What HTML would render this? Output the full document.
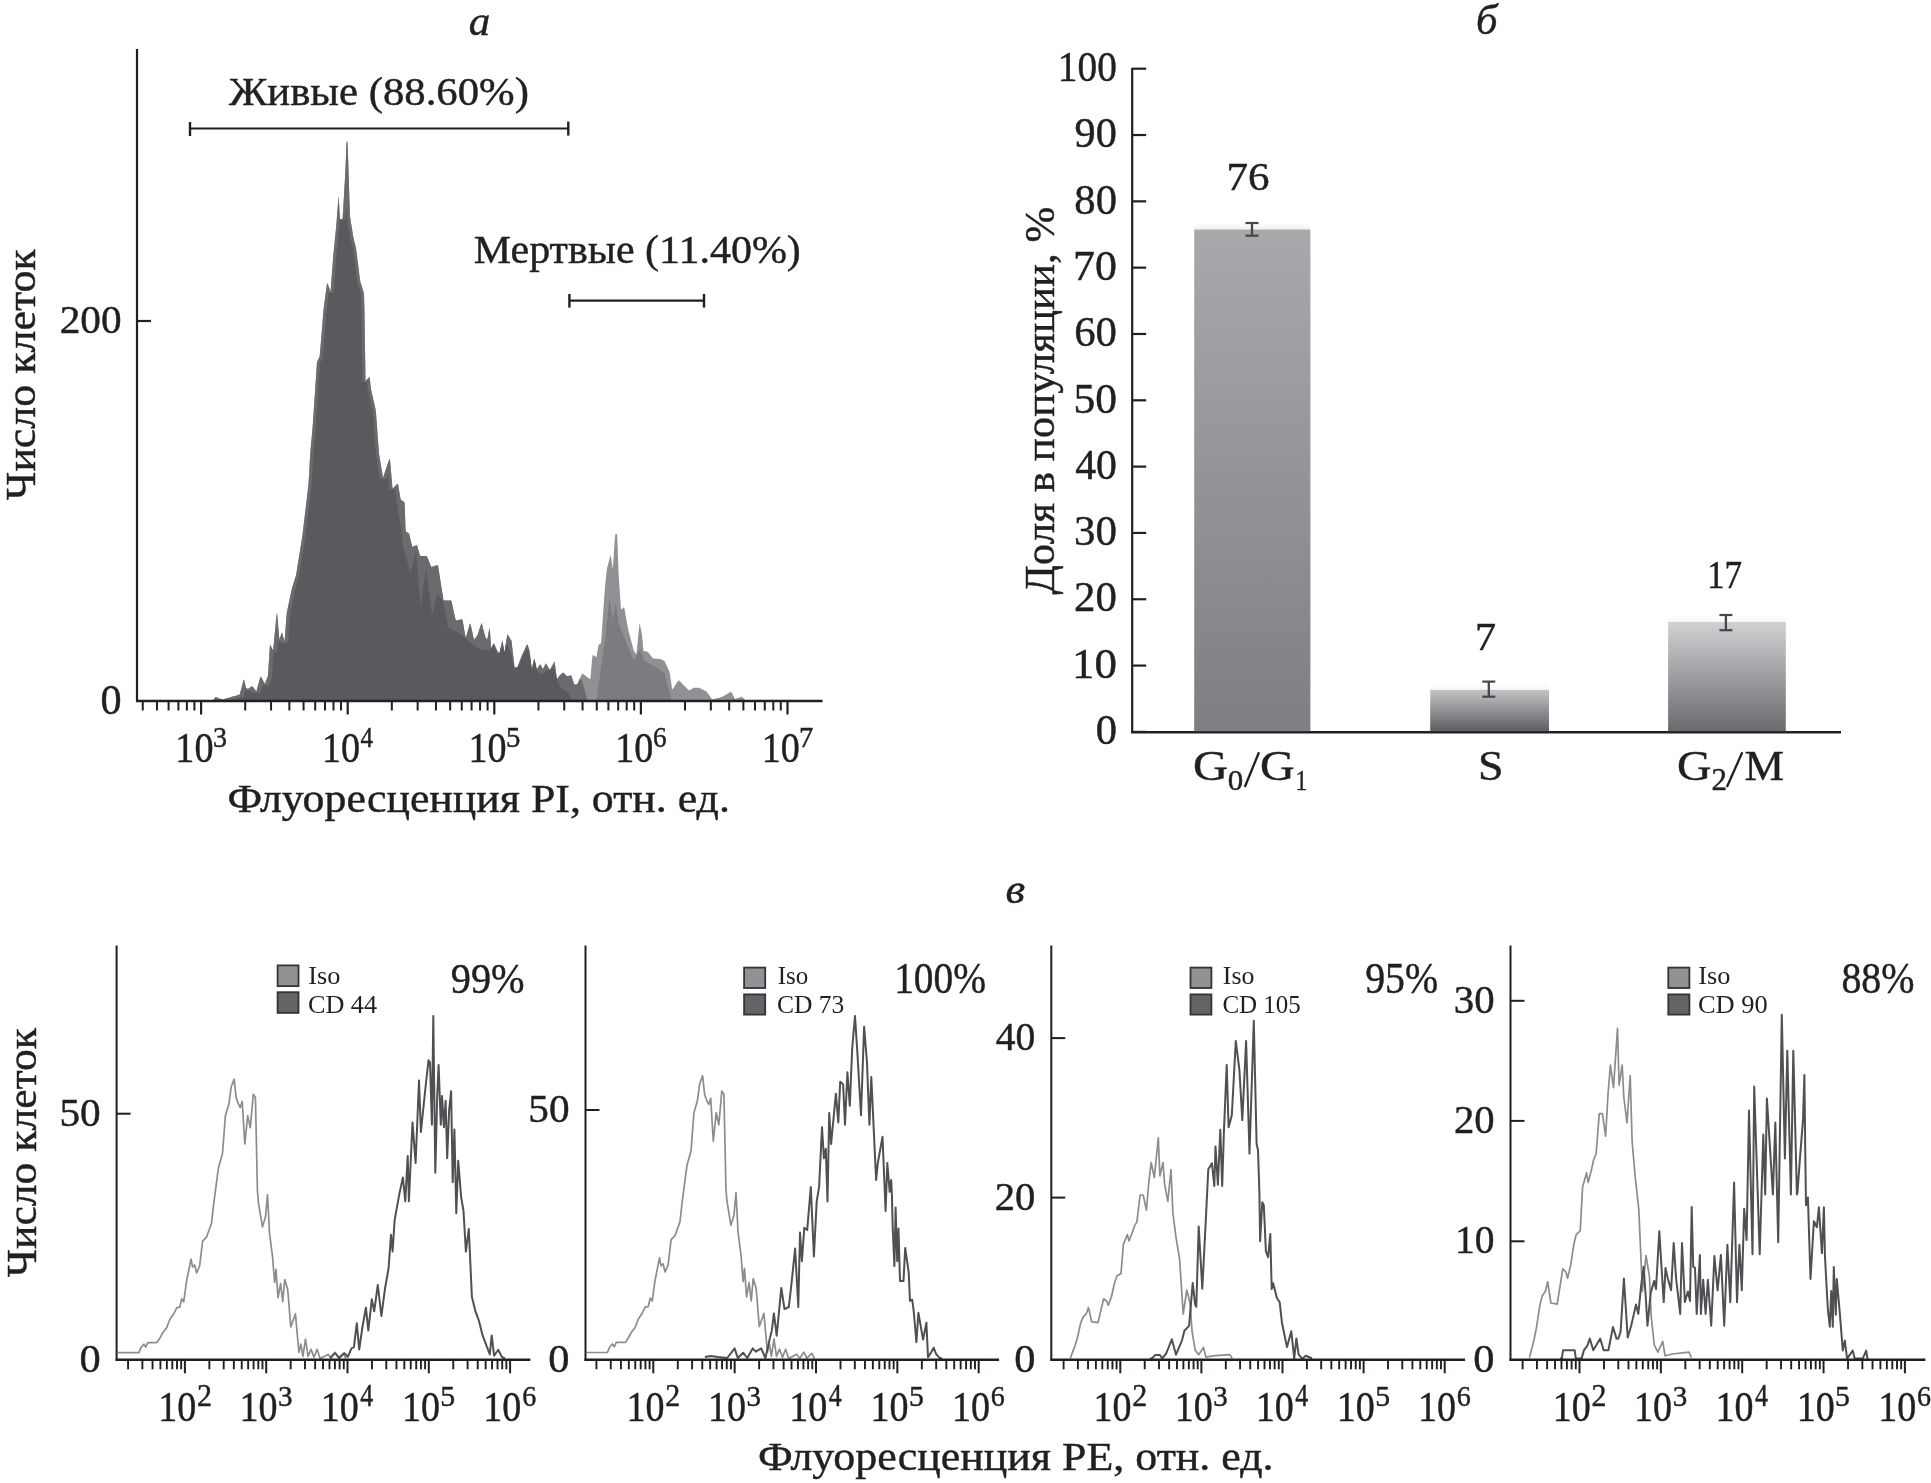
<!DOCTYPE html>
<html><head><meta charset="utf-8"><style>
html,body{margin:0;padding:0;background:#fff;}
svg{display:block;will-change:transform;}
text{font-family:"Liberation Serif", serif;stroke:#231f20;stroke-width:0.45px;} .sm text{stroke-width:0;}
</style></head><body>
<svg width="1931" height="1483" viewBox="0 0 1931 1483">
<defs><linearGradient id="bg0" x1="0" y1="0" x2="0" y2="1"><stop offset="0" stop-color="#a7a9ac"/><stop offset="1" stop-color="#7e7f83"/></linearGradient><linearGradient id="bh0" x1="0" y1="0" x2="0" y2="1"><stop offset="0" stop-color="#ffffff" stop-opacity="0"/><stop offset="1" stop-color="#a7a9ac" stop-opacity="0.18"/></linearGradient><linearGradient id="bg1" x1="0" y1="0" x2="0" y2="1"><stop offset="0" stop-color="#c3c4c6"/><stop offset="1" stop-color="#5d5e62"/></linearGradient><linearGradient id="bh1" x1="0" y1="0" x2="0" y2="1"><stop offset="0" stop-color="#ffffff" stop-opacity="0"/><stop offset="1" stop-color="#c3c4c6" stop-opacity="0.18"/></linearGradient><linearGradient id="bg2" x1="0" y1="0" x2="0" y2="1"><stop offset="0" stop-color="#d0d1d3"/><stop offset="1" stop-color="#6a6b6f"/></linearGradient><linearGradient id="bh2" x1="0" y1="0" x2="0" y2="1"><stop offset="0" stop-color="#ffffff" stop-opacity="0"/><stop offset="1" stop-color="#d0d1d3" stop-opacity="0.18"/></linearGradient></defs>
<rect width="1931" height="1483" fill="#fff"/>
<g id="hist"><polygon points="137,701.0 137.0,701.0 212.5,700.6 213.0,700.5 213.5,699.8 214.0,699.1 214.5,698.4 215.0,697.7 215.5,697.0 216.0,696.9 217.0,697.4 218.0,698.0 219.0,698.5 221.0,699.0 223.0,699.5 224.5,699.0 226.0,698.6 227.5,698.1 229.0,697.7 230.5,697.2 232.0,696.8 234.0,696.3 236.0,695.8 237.5,695.3 239.0,694.8 239.5,694.7 240.0,693.5 240.5,691.6 241.0,689.8 241.5,687.9 242.0,686.1 242.5,684.2 243.0,682.3 243.5,680.5 244.0,679.4 244.5,681.6 245.0,683.7 245.5,685.9 246.0,688.0 247.0,688.5 248.0,689.0 249.0,688.3 250.0,687.6 251.0,686.9 252.0,686.1 252.5,686.4 253.0,687.0 253.5,687.7 254.0,688.4 254.5,689.0 255.0,689.7 255.5,690.3 256.0,691.0 256.5,691.1 257.0,689.3 257.5,687.4 258.0,685.6 258.5,683.8 259.0,681.9 259.5,680.1 260.0,678.2 260.5,676.4 261.0,676.8 261.5,677.7 262.0,678.7 262.5,679.6 263.0,680.6 263.5,681.5 264.0,682.5 264.5,683.4 265.0,683.5 265.5,682.2 266.0,681.0 266.5,679.8 267.0,678.5 267.5,677.2 268.0,676.0 268.5,668.1 269.0,660.2 269.5,652.4 270.0,644.5 270.5,645.5 271.0,646.5 271.5,647.5 272.0,648.5 272.5,649.5 273.0,650.5 273.5,646.6 274.0,641.4 274.5,636.3 275.0,631.1 275.5,625.9 276.0,620.8 276.5,615.6 277.0,612.6 277.5,618.3 278.0,624.0 278.5,629.7 279.0,635.4 279.5,639.7 280.0,638.1 280.5,636.5 281.0,634.9 281.5,633.3 282.0,632.4 282.5,634.2 283.0,636.1 283.5,637.9 284.0,639.8 284.5,641.6 285.0,636.5 285.5,629.6 286.0,622.7 286.5,615.8 287.0,611.6 287.5,609.2 288.0,606.9 288.5,604.5 289.0,602.2 289.5,599.8 290.0,597.4 290.5,595.1 291.0,592.7 291.5,590.4 292.0,588.0 292.5,586.4 293.0,584.9 293.5,583.3 294.0,581.8 294.5,580.2 295.0,578.6 295.5,577.1 296.0,575.5 296.5,572.4 297.0,569.3 297.5,566.2 298.0,563.1 298.5,560.0 299.0,556.9 299.5,553.8 300.0,550.7 300.5,547.6 301.0,544.5 301.5,541.4 302.0,538.3 302.5,535.0 303.0,530.7 303.5,526.5 304.0,522.3 304.5,518.1 305.0,513.9 305.5,509.7 306.0,505.5 306.5,501.3 307.0,497.1 307.5,492.9 308.0,488.7 308.5,484.4 309.0,476.1 309.5,466.8 310.0,457.4 310.5,450.4 311.0,444.9 311.5,439.4 312.0,433.8 312.5,428.3 313.0,422.0 313.5,414.5 314.0,407.0 314.5,399.5 315.0,392.0 315.5,384.5 316.0,377.0 316.5,369.5 317.0,362.0 317.5,361.0 318.0,360.0 318.5,359.0 319.0,358.0 319.5,357.0 320.0,353.0 320.5,346.9 321.0,340.8 321.5,334.7 322.0,328.7 322.5,322.6 323.0,316.5 323.5,310.4 324.0,305.8 324.5,302.1 325.0,298.5 325.5,294.8 326.0,291.2 326.5,287.5 327.0,283.9 327.5,283.3 328.0,284.7 328.5,286.1 329.0,287.6 329.5,289.0 330.0,290.5 330.5,291.9 331.0,285.4 331.5,278.9 332.0,272.4 332.5,265.9 333.0,259.4 333.5,253.8 334.0,248.7 334.5,243.6 335.0,238.6 335.5,233.5 336.0,228.4 336.5,223.0 337.0,216.3 337.5,209.6 338.0,202.8 338.5,196.1 339.0,202.2 339.5,211.5 340.0,219.0 342.5,219.0 343.0,212.2 343.5,203.7 344.0,195.3 344.5,186.8 345.0,178.3 345.5,168.2 346.0,155.8 346.5,143.3 347.0,141.3 347.5,141.9 348.0,154.9 348.5,171.0 349.0,187.0 349.5,203.1 350.0,216.6 350.5,219.8 351.0,222.9 351.5,226.0 352.0,229.1 352.5,232.3 353.0,235.4 353.5,238.3 354.0,240.3 354.5,242.3 355.0,244.3 355.5,246.3 356.0,248.3 356.5,251.9 357.0,256.0 357.5,260.0 358.0,264.0 358.5,268.1 359.0,272.1 359.5,276.2 360.0,280.2 360.5,282.3 361.0,284.0 361.5,285.6 362.0,287.3 362.5,289.0 363.0,290.6 363.5,292.3 364.0,293.9 364.5,314.5 365.0,347.7 365.5,380.9 366.0,380.4 366.5,379.9 367.0,379.4 367.5,378.9 368.0,378.4 368.5,377.9 369.0,377.4 369.5,376.9 370.0,380.6 370.5,385.2 371.0,389.4 371.5,391.6 372.0,393.8 372.5,396.0 373.0,398.2 373.5,400.4 374.0,402.6 374.5,404.8 375.0,407.0 375.5,409.2 376.0,413.2 376.5,419.9 377.0,426.7 377.5,433.4 378.0,440.2 378.5,446.9 379.0,453.7 379.5,456.7 380.0,459.8 380.5,462.8 381.0,465.9 381.5,468.9 382.0,471.9 382.5,475.0 383.0,478.0 383.5,476.5 384.0,475.0 384.5,473.5 385.0,472.1 385.5,470.6 386.0,469.1 386.5,467.6 387.0,466.1 387.5,464.6 388.0,463.1 388.5,461.7 389.0,460.2 389.5,458.7 390.0,460.1 390.5,465.8 391.0,471.6 391.5,477.3 392.0,483.1 392.5,488.8 393.0,488.3 393.5,487.8 394.0,487.3 394.5,486.8 395.0,486.3 395.5,485.8 396.0,485.3 396.5,484.8 397.0,484.3 397.5,483.8 398.0,484.0 398.5,487.0 399.0,490.0 399.5,493.0 400.0,496.0 400.5,499.0 401.0,499.9 402.0,500.5 403.0,501.2 404.0,501.9 404.5,502.2 405.0,513.9 405.5,528.5 406.0,531.7 407.0,532.3 408.0,533.0 409.0,533.6 409.5,535.6 410.0,537.7 410.5,539.7 411.0,541.7 411.5,543.8 412.0,545.8 412.5,546.9 413.5,546.4 414.5,545.9 415.5,545.4 416.5,544.9 417.0,545.4 417.5,547.1 418.0,548.8 418.5,550.5 419.0,552.2 419.5,553.9 420.0,555.6 420.5,555.9 426.5,555.9 427.0,556.4 427.5,557.7 428.0,558.9 428.5,560.2 429.0,561.5 429.5,562.7 430.0,564.0 430.5,565.2 431.0,566.5 431.5,566.9 433.0,566.4 434.5,565.9 436.0,565.4 437.5,564.9 438.0,565.4 438.5,568.6 439.0,571.8 439.5,575.0 440.0,578.2 440.5,581.3 441.0,584.5 441.5,587.7 442.0,590.9 442.5,594.0 443.0,597.2 443.5,600.4 451.0,600.4 451.5,601.3 452.0,603.6 452.5,605.9 453.0,608.1 453.5,610.4 454.0,612.7 454.5,614.9 455.0,617.2 455.5,619.5 456.0,620.4 458.5,619.9 461.0,619.5 462.0,619.4 462.5,619.9 463.0,622.7 463.5,625.6 464.0,628.5 464.5,631.3 465.0,634.2 465.5,637.1 466.0,637.2 466.5,635.4 467.0,633.7 467.5,632.0 468.0,630.3 468.5,628.6 469.0,626.8 469.5,625.1 470.0,623.4 470.5,624.1 471.0,626.3 471.5,628.5 472.0,630.8 472.5,633.1 473.0,635.4 473.5,637.7 474.0,640.0 474.5,639.3 475.0,638.6 475.5,637.9 476.0,637.2 476.5,636.5 477.0,635.8 477.5,635.0 478.0,633.7 478.5,632.2 479.0,630.6 479.5,629.1 480.0,627.6 480.5,626.1 481.0,624.5 481.5,623.0 482.0,624.3 482.5,626.2 483.0,628.2 483.5,630.2 484.0,632.2 484.5,634.1 485.0,636.1 485.5,637.4 486.0,638.1 486.5,638.9 487.0,639.7 487.5,638.4 488.0,635.8 488.5,633.1 489.0,630.5 489.5,627.9 490.0,631.2 490.5,638.6 491.0,646.0 491.5,648.3 492.0,647.2 492.5,646.0 493.0,644.8 493.5,643.7 494.0,643.5 494.5,644.7 495.0,645.9 495.5,647.1 496.0,648.3 496.5,649.3 497.0,650.2 497.5,651.0 498.0,651.8 498.5,652.7 499.0,653.5 499.5,653.1 500.0,650.8 500.5,648.6 501.0,646.3 501.5,644.1 502.0,641.8 502.5,640.7 503.0,643.9 503.5,647.2 504.0,650.4 504.5,652.4 505.0,649.2 505.5,646.0 506.0,642.8 506.5,639.6 507.0,636.4 507.5,634.0 508.0,634.9 508.5,635.7 509.0,636.6 509.5,637.5 510.0,638.4 510.5,639.2 511.0,640.1 511.5,641.0 512.0,645.4 512.5,649.7 513.0,654.1 513.5,658.5 514.0,662.8 514.5,667.2 517.5,667.2 518.0,665.8 518.5,664.5 519.0,663.1 519.5,661.7 520.0,660.4 520.5,659.0 521.0,657.6 521.5,656.3 522.0,655.1 522.5,654.1 523.0,653.0 523.5,651.9 524.0,650.9 524.5,649.8 525.0,648.7 525.5,647.6 526.0,646.6 526.5,645.5 527.0,644.4 527.5,644.8 528.0,646.2 528.5,647.6 529.0,649.0 529.5,650.4 530.0,653.7 530.5,658.3 531.0,662.9 531.5,667.5 532.0,667.9 532.5,665.7 533.0,663.4 533.5,661.2 534.0,658.9 534.5,659.3 535.0,661.5 535.5,663.6 536.0,665.8 536.5,668.0 537.0,669.0 537.5,668.3 538.0,667.6 538.5,666.8 539.0,666.1 539.5,665.4 540.0,664.6 540.5,664.6 541.0,665.6 541.5,666.6 542.0,667.7 542.5,668.7 543.0,668.9 543.5,667.9 544.0,666.9 544.5,666.0 545.0,665.0 545.5,664.0 546.0,663.4 546.5,664.3 547.0,665.2 547.5,666.0 548.0,666.9 548.5,667.8 549.0,668.7 549.5,669.6 550.0,670.1 550.5,669.1 551.0,668.1 551.5,667.1 552.0,666.1 552.5,665.2 553.0,664.2 553.5,663.2 554.0,662.2 554.5,661.2 555.0,664.8 555.5,668.5 556.0,672.1 556.5,675.8 557.0,679.4 557.5,678.6 558.0,677.8 558.5,677.1 559.0,676.3 559.5,675.8 560.0,675.3 560.5,674.8 561.0,674.3 561.5,673.9 562.0,673.4 562.5,672.9 563.0,672.4 564.0,673.2 564.5,673.7 565.0,674.2 565.5,674.7 566.0,675.2 566.5,675.7 567.0,676.2 569.5,675.7 571.0,675.3 571.5,676.2 572.0,677.7 572.5,679.2 573.0,680.8 573.5,682.3 574.0,683.8 574.5,684.4 577.0,684.4 577.5,683.7 578.0,682.7 578.5,681.6 579.0,680.5 579.5,679.4 580.0,678.3 580.5,677.2 581.0,676.1 581.5,675.0 582.0,674.0 582.5,673.5 583.5,674.2 584.5,675.0 585.5,675.7 586.5,676.5 587.5,677.2 588.5,678.0 589.5,678.7 590.0,679.1 590.5,678.2 591.0,672.1 591.5,666.0 592.0,660.0 592.5,655.1 593.5,655.6 594.5,656.1 595.5,656.6 596.5,657.1 597.0,654.1 597.5,651.0 598.0,648.0 598.5,645.0 599.5,644.2 600.5,643.5 601.0,643.1 601.5,637.1 602.0,629.7 602.5,622.3 603.0,614.9 603.5,607.5 604.0,600.4 604.5,593.5 605.0,586.6 605.5,581.9 606.0,577.2 606.5,572.5 607.0,568.3 607.5,566.5 608.0,564.6 608.5,562.8 609.0,560.9 609.5,559.1 610.0,557.2 610.5,555.3 611.0,556.9 611.5,560.8 612.0,564.6 612.5,568.5 613.0,565.7 613.5,558.5 614.0,551.3 614.5,544.1 615.0,536.9 615.5,534.0 617.0,534.0 617.5,543.2 618.0,558.7 618.5,572.5 619.0,579.9 619.5,587.4 620.0,594.8 620.5,602.3 621.0,609.7 621.5,609.3 622.0,608.9 622.5,608.4 623.0,608.0 623.5,607.6 624.0,607.2 624.5,608.7 625.0,611.6 625.5,614.5 626.0,617.4 626.5,620.3 627.0,623.1 627.5,626.0 628.0,628.9 628.5,630.8 629.0,632.7 629.5,634.5 630.0,636.4 630.5,638.3 631.0,640.2 631.5,642.1 632.0,643.9 632.5,645.8 633.0,647.7 633.5,649.6 634.0,651.0 634.5,651.7 635.0,652.5 635.5,653.2 636.0,653.9 636.5,653.5 637.0,648.5 637.5,643.5 638.0,638.5 638.5,633.5 639.0,628.5 639.5,623.5 640.0,624.5 640.5,627.1 641.0,629.7 641.5,632.2 642.0,634.8 642.5,640.0 643.0,646.0 643.5,650.7 645.0,651.2 646.5,651.6 648.0,652.1 648.5,652.8 649.0,653.4 649.5,654.0 650.0,654.6 650.5,655.3 651.0,655.9 651.5,656.5 652.0,657.1 652.5,657.8 653.0,658.4 660.5,659.0 661.5,659.5 662.5,660.0 663.5,660.5 664.5,661.0 665.0,661.9 665.5,663.0 666.0,664.1 666.5,665.2 667.0,666.4 667.5,667.5 668.0,668.6 668.5,669.7 669.0,670.8 669.5,672.0 670.0,674.5 670.5,678.0 671.0,681.6 671.5,685.1 672.0,688.6 672.5,689.5 673.0,688.8 673.5,688.0 674.0,687.2 674.5,686.4 675.0,685.6 675.5,684.8 676.0,684.1 676.5,683.3 677.0,682.5 677.5,681.7 678.0,680.9 678.5,680.2 679.0,680.4 679.5,680.9 680.0,681.4 680.5,681.9 681.0,682.5 681.5,683.0 682.0,683.5 682.5,684.0 683.0,684.5 683.5,685.0 684.0,685.5 684.5,686.0 685.0,686.5 685.5,687.0 686.0,687.4 686.5,687.9 687.0,688.4 687.5,688.9 688.0,689.4 688.5,689.9 689.0,690.4 690.0,689.9 691.0,689.4 692.0,688.8 693.0,688.3 694.0,687.8 699.0,687.8 700.0,688.3 701.0,688.8 702.0,689.3 703.0,689.8 704.0,690.3 705.0,690.8 706.0,691.3 707.0,692.0 707.5,692.7 708.0,693.5 708.5,694.2 709.0,694.9 709.5,695.6 710.0,696.4 710.5,697.1 711.0,697.8 711.5,698.6 712.0,699.3 714.0,698.9 716.0,698.4 718.0,698.0 720.0,697.6 721.5,697.1 722.5,696.5 723.5,696.0 724.5,695.4 725.5,694.9 726.5,694.3 727.5,693.7 728.5,693.2 729.5,692.6 730.5,692.1 731.0,691.8 731.5,692.3 732.0,693.2 732.5,694.2 733.0,695.2 733.5,696.1 734.0,697.1 734.5,698.0 735.0,699.0 736.5,698.5 738.0,698.1 739.5,697.6 741.0,697.1 742.0,696.8 742.5,697.3 743.0,697.8 743.5,698.3 744.0,698.7 744.5,699.2 745.0,699.7 745.5,700.0 747.5,700.5 749.5,700.9 822.5,701.0 822,701.0" fill="#8f9194"/>
<polygon points="137,701.0 137.0,701.0 591.5,700.6 593.0,700.1 594.5,699.7 596.0,699.2 596.5,699.1 597.0,696.8 597.5,693.2 598.0,689.7 598.5,686.1 599.0,682.5 599.5,678.9 600.0,675.3 600.5,671.7 601.0,668.1 601.5,664.5 602.0,660.9 602.5,657.3 603.0,653.7 603.5,650.1 604.0,646.5 604.5,642.9 605.0,639.3 605.5,635.7 606.0,631.1 606.5,626.2 607.0,621.4 607.5,616.5 608.0,611.6 608.5,606.7 609.0,601.9 609.5,597.0 610.0,600.6 610.5,604.2 611.0,607.8 611.5,611.4 612.0,615.0 612.5,618.6 613.0,618.4 613.5,615.8 614.0,613.1 614.5,610.4 615.0,607.8 615.5,605.1 616.0,603.8 616.5,607.7 617.0,611.6 617.5,615.5 618.0,619.4 618.5,622.8 619.0,624.1 619.5,625.4 620.0,626.7 620.5,628.0 621.0,629.3 621.5,630.6 622.0,631.9 622.5,633.2 623.0,634.4 623.5,635.7 624.0,636.9 624.5,638.1 625.0,639.3 625.5,640.6 626.0,641.8 626.5,643.0 627.0,644.3 627.5,645.5 628.0,646.7 628.5,648.0 629.0,649.2 629.5,650.4 630.0,651.6 630.5,652.9 631.0,654.1 631.5,655.3 632.0,656.6 632.5,657.8 633.0,659.0 633.5,660.3 634.0,660.6 634.5,659.6 635.0,658.6 635.5,657.5 636.0,656.5 636.5,655.5 637.0,654.5 637.5,653.5 638.0,652.5 638.5,651.5 639.0,650.4 639.5,649.4 640.0,648.4 640.5,649.0 641.0,650.7 641.5,652.4 642.0,654.2 642.5,655.9 643.0,657.6 643.5,659.3 644.0,661.0 645.0,661.5 646.0,662.0 647.0,662.5 648.0,663.0 649.0,663.4 650.0,663.9 651.0,664.4 652.0,664.9 653.0,665.4 654.0,665.9 655.0,666.4 656.0,666.9 657.0,667.4 657.5,667.8 658.0,668.2 658.5,668.6 659.0,669.0 659.5,669.5 660.0,669.9 660.5,670.3 661.0,670.7 661.5,671.1 662.0,671.5 662.5,672.0 663.0,672.4 663.5,672.8 664.0,673.2 664.5,673.6 665.0,675.3 665.5,677.3 666.0,679.2 666.5,681.2 667.0,683.2 667.5,685.2 668.0,687.1 668.5,689.1 669.0,691.1 669.5,693.1 670.0,695.0 670.5,697.0 671.0,699.0 672.0,699.5 673.0,700.0 674.0,700.5 675.0,701.0 822.5,701.0 822,701.0" fill="#7b7c80"/>
<polygon points="137,701.0 137.0,701.0 212.5,700.6 213.0,700.5 213.5,699.8 214.0,699.1 214.5,698.4 215.0,697.7 215.5,697.0 216.0,696.9 217.0,697.4 218.0,698.0 219.0,698.5 221.0,699.0 223.0,699.5 224.5,699.0 226.0,698.6 227.5,698.1 229.0,697.7 230.5,697.2 232.0,696.8 234.0,696.3 236.0,695.8 237.5,695.3 239.0,694.8 239.5,694.7 240.0,693.5 240.5,691.6 241.0,689.8 241.5,687.9 242.0,686.1 242.5,684.2 243.0,682.3 243.5,680.5 244.0,679.4 244.5,681.6 245.0,683.7 245.5,685.9 246.0,688.0 247.0,688.5 248.0,689.0 249.0,688.3 250.0,687.6 251.0,686.9 252.0,686.1 252.5,686.4 253.0,687.0 253.5,687.7 254.0,688.4 254.5,689.0 255.0,689.7 255.5,690.3 256.0,691.0 256.5,691.1 257.0,689.3 257.5,687.4 258.0,685.6 258.5,683.8 259.0,681.9 259.5,680.1 260.0,678.2 260.5,676.4 261.0,676.8 261.5,677.7 262.0,678.7 262.5,679.6 263.0,680.6 263.5,681.5 264.0,682.5 264.5,683.4 265.0,683.5 265.5,682.2 266.0,681.0 266.5,679.8 267.0,678.5 267.5,677.2 268.0,676.0 268.5,668.1 269.0,660.2 269.5,652.4 270.0,644.5 270.5,645.5 271.0,646.5 271.5,647.5 272.0,648.5 272.5,649.5 273.0,650.5 273.5,646.6 274.0,641.4 274.5,636.3 275.0,631.1 275.5,625.9 276.0,620.8 276.5,615.6 277.0,612.6 277.5,618.3 278.0,624.0 278.5,629.7 279.0,635.4 279.5,639.7 280.0,638.1 280.5,636.5 281.0,634.9 281.5,633.3 282.0,632.4 282.5,634.2 283.0,636.1 283.5,637.9 284.0,639.8 284.5,641.6 285.0,636.5 285.5,629.6 286.0,622.7 286.5,615.8 287.0,611.6 287.5,609.2 288.0,606.9 288.5,604.5 289.0,602.2 289.5,599.8 290.0,597.4 290.5,595.1 291.0,592.7 291.5,590.4 292.0,588.0 292.5,586.4 293.0,584.9 293.5,583.3 294.0,581.8 294.5,580.2 295.0,578.6 295.5,577.1 296.0,575.5 296.5,572.4 297.0,569.3 297.5,566.2 298.0,563.1 298.5,560.0 299.0,556.9 299.5,553.8 300.0,550.7 300.5,547.6 301.0,544.5 301.5,541.4 302.0,538.3 302.5,535.0 303.0,530.7 303.5,526.5 304.0,522.3 304.5,518.1 305.0,513.9 305.5,509.7 306.0,505.5 306.5,501.3 307.0,497.1 307.5,492.9 308.0,488.7 308.5,484.4 309.0,476.1 309.5,466.8 310.0,457.4 310.5,450.4 311.0,444.9 311.5,439.4 312.0,433.8 312.5,428.3 313.0,422.0 313.5,414.5 314.0,407.0 314.5,399.5 315.0,392.0 315.5,384.5 316.0,377.0 316.5,369.5 317.0,362.0 317.5,361.0 318.0,360.0 318.5,359.0 319.0,358.0 319.5,357.0 320.0,353.0 320.5,346.9 321.0,340.8 321.5,334.7 322.0,328.7 322.5,322.6 323.0,316.5 323.5,310.4 324.0,305.8 324.5,302.1 325.0,298.5 325.5,294.8 326.0,291.2 326.5,287.5 327.0,283.9 327.5,283.3 328.0,284.7 328.5,286.1 329.0,287.6 329.5,289.0 330.0,290.5 330.5,291.9 331.0,285.4 331.5,278.9 332.0,272.4 332.5,265.9 333.0,259.4 333.5,253.8 334.0,248.7 334.5,243.6 335.0,238.6 335.5,233.5 336.0,228.4 336.5,223.0 337.0,216.3 337.5,209.6 338.0,202.8 338.5,196.1 339.0,202.2 339.5,211.5 340.0,219.0 342.5,219.0 343.0,212.2 343.5,203.7 344.0,195.3 344.5,186.8 345.0,178.3 345.5,168.2 346.0,155.8 346.5,143.3 347.0,141.3 347.5,141.9 348.0,154.9 348.5,171.0 349.0,187.0 349.5,203.1 350.0,216.6 350.5,219.8 351.0,222.9 351.5,226.0 352.0,229.1 352.5,232.3 353.0,235.4 353.5,238.3 354.0,240.3 354.5,242.3 355.0,244.3 355.5,246.3 356.0,248.3 356.5,251.9 357.0,256.0 357.5,260.0 358.0,264.0 358.5,268.1 359.0,272.1 359.5,276.2 360.0,280.2 360.5,282.3 361.0,284.0 361.5,285.6 362.0,287.3 362.5,289.0 363.0,290.6 363.5,292.3 364.0,293.9 364.5,314.5 365.0,347.7 365.5,380.9 366.0,380.4 366.5,379.9 367.0,379.4 367.5,378.9 368.0,378.4 368.5,377.9 369.0,377.4 369.5,376.9 370.0,380.6 370.5,385.2 371.0,389.4 371.5,391.6 372.0,393.8 372.5,396.0 373.0,398.2 373.5,400.4 374.0,402.6 374.5,404.8 375.0,407.0 375.5,409.2 376.0,413.2 376.5,419.9 377.0,426.7 377.5,433.4 378.0,440.2 378.5,446.9 379.0,453.7 379.5,456.7 380.0,459.8 380.5,462.8 381.0,465.9 381.5,468.9 382.0,471.9 382.5,475.0 383.0,478.0 383.5,476.5 384.0,475.0 384.5,473.5 385.0,472.1 385.5,470.6 386.0,469.1 386.5,467.6 387.0,466.1 387.5,464.6 388.0,463.1 388.5,461.7 389.0,460.2 389.5,458.7 390.0,460.1 390.5,465.8 391.0,471.6 391.5,477.3 392.0,483.1 392.5,488.8 393.0,488.3 393.5,487.8 394.0,487.3 394.5,486.8 395.0,486.3 395.5,485.8 396.0,485.3 396.5,484.8 397.0,484.3 397.5,483.8 398.0,484.0 398.5,487.0 399.0,490.0 399.5,493.0 400.0,496.0 400.5,499.0 401.0,499.9 402.0,500.5 403.0,501.2 404.0,501.9 404.5,502.2 405.0,513.9 405.5,528.5 406.0,531.7 407.0,532.3 408.0,533.0 409.0,533.6 409.5,535.6 410.0,537.7 410.5,539.7 411.0,541.7 411.5,543.8 412.0,545.8 412.5,546.9 413.5,546.4 414.5,545.9 415.5,545.4 416.5,544.9 417.0,545.4 417.5,547.1 418.0,548.8 418.5,550.5 419.0,552.2 419.5,553.9 420.0,555.6 420.5,555.9 426.5,555.9 427.0,556.4 427.5,557.7 428.0,558.9 428.5,560.2 429.0,561.5 429.5,562.7 430.0,564.0 430.5,565.2 431.0,566.5 431.5,566.9 433.0,566.4 434.5,565.9 436.0,565.4 437.5,564.9 438.0,565.4 438.5,568.6 439.0,571.8 439.5,575.0 440.0,578.2 440.5,581.3 441.0,584.5 441.5,587.7 442.0,590.9 442.5,594.0 443.0,597.2 443.5,600.4 451.0,600.4 451.5,601.3 452.0,603.6 452.5,605.9 453.0,608.1 453.5,610.4 454.0,612.7 454.5,614.9 455.0,617.2 455.5,619.5 456.0,620.4 458.5,619.9 461.0,619.5 462.0,619.4 462.5,619.9 463.0,622.7 463.5,625.6 464.0,628.5 464.5,631.3 465.0,634.2 465.5,637.1 466.0,637.2 466.5,635.4 467.0,633.7 467.5,632.0 468.0,630.3 468.5,628.6 469.0,626.8 469.5,625.1 470.0,623.4 470.5,624.1 471.0,626.3 471.5,628.5 472.0,630.8 472.5,633.1 473.0,635.4 473.5,637.7 474.0,640.0 474.5,639.3 475.0,638.6 475.5,637.9 476.0,637.2 476.5,636.5 477.0,635.8 477.5,635.0 478.0,633.7 478.5,632.2 479.0,630.6 479.5,629.1 480.0,627.6 480.5,626.1 481.0,624.5 481.5,623.0 482.0,624.3 482.5,626.2 483.0,628.2 483.5,630.2 484.0,632.2 484.5,634.1 485.0,636.1 485.5,637.4 486.0,638.1 486.5,638.9 487.0,639.7 487.5,638.4 488.0,635.8 488.5,633.1 489.0,630.5 489.5,627.9 490.0,631.2 490.5,638.6 491.0,646.0 491.5,648.3 492.0,647.2 492.5,646.0 493.0,644.8 493.5,643.7 494.0,643.5 494.5,644.7 495.0,645.9 495.5,647.1 496.0,648.3 496.5,649.3 497.0,650.2 497.5,651.0 498.0,651.8 498.5,652.7 499.0,653.5 499.5,653.1 500.0,650.8 500.5,648.6 501.0,646.3 501.5,644.1 502.0,641.8 502.5,640.7 503.0,643.9 503.5,647.2 504.0,650.4 504.5,652.4 505.0,649.2 505.5,646.0 506.0,642.8 506.5,639.6 507.0,636.4 507.5,634.0 508.0,634.9 508.5,635.7 509.0,636.6 509.5,637.5 510.0,638.4 510.5,639.2 511.0,640.1 511.5,641.0 512.0,645.4 512.5,649.7 513.0,654.1 513.5,658.5 514.0,662.8 514.5,667.2 517.5,667.2 518.0,665.8 518.5,664.5 519.0,663.1 519.5,661.7 520.0,660.4 520.5,659.0 521.0,657.6 521.5,656.3 522.0,655.1 522.5,654.1 523.0,653.0 523.5,651.9 524.0,650.9 524.5,649.8 525.0,648.7 525.5,647.6 526.0,646.6 526.5,645.5 527.0,644.4 527.5,644.8 528.0,646.2 528.5,647.6 529.0,649.0 529.5,650.4 530.0,653.7 530.5,658.3 531.0,662.9 531.5,667.5 532.0,667.9 532.5,665.7 533.0,663.4 533.5,661.2 534.0,658.9 534.5,659.3 535.0,661.5 535.5,663.6 536.0,665.8 536.5,668.0 537.0,669.0 537.5,668.3 538.0,667.6 538.5,666.8 539.0,666.1 539.5,665.4 540.0,664.6 540.5,664.6 541.0,665.6 541.5,666.6 542.0,667.7 542.5,668.7 543.0,668.9 543.5,667.9 544.0,666.9 544.5,666.0 545.0,665.0 545.5,664.0 546.0,663.4 546.5,664.3 547.0,665.2 547.5,666.0 548.0,666.9 548.5,667.8 549.0,668.7 549.5,669.6 550.0,670.1 550.5,669.1 551.0,668.1 551.5,667.1 552.0,666.1 552.5,665.2 553.0,664.2 553.5,663.2 554.0,662.2 554.5,661.2 555.0,664.8 555.5,668.5 556.0,672.1 556.5,675.8 557.0,679.4 557.5,678.6 558.0,677.8 558.5,677.1 559.0,676.3 559.5,675.8 560.0,675.3 560.5,674.8 561.0,674.3 561.5,673.9 562.0,673.4 562.5,672.9 563.0,672.4 564.0,673.2 564.5,673.7 565.0,674.2 565.5,674.7 566.0,675.2 566.5,675.7 567.0,676.2 569.5,675.7 571.0,675.3 571.5,676.2 572.0,677.7 572.5,679.2 573.0,680.8 573.5,682.3 574.0,683.8 574.5,684.4 577.0,684.4 577.5,683.7 578.0,682.7 578.5,681.6 579.0,680.5 579.5,679.4 580.0,678.3 581.0,679.2 581.5,679.9 582.0,680.7 582.5,682.1 583.0,684.0 583.5,685.9 584.0,687.8 584.5,689.6 585.0,691.4 585.5,693.1 586.0,694.8 586.5,696.4 587.0,698.0 587.5,699.5 588.0,701.0 822.5,701.0 822,701.0" fill="#6a6b6f"/>
<polygon points="137,701.0 137.0,701.0 230.0,700.6 231.5,700.1 233.0,699.7 234.5,699.2 236.0,698.8 238.0,698.3 240.0,697.8 241.5,697.3 243.0,696.8 243.5,696.7 244.0,695.5 244.5,693.6 245.0,691.8 245.5,691.0 250.5,691.0 251.0,691.7 251.5,692.3 252.0,693.0 260.5,693.1 261.0,691.3 261.5,689.4 262.0,687.6 262.5,685.8 263.0,685.5 269.0,685.5 269.5,684.2 270.0,683.0 270.5,681.8 271.0,680.5 271.5,679.2 272.0,678.0 272.5,670.1 273.0,662.2 273.5,654.4 274.0,652.5 277.0,652.5 277.5,648.6 278.0,643.4 278.5,641.7 280.0,641.8 280.5,643.6 287.5,643.3 288.0,641.2 288.5,638.1 289.0,631.8 289.5,624.5 290.0,618.6 290.5,613.8 291.0,610.4 291.5,607.9 292.0,605.4 292.5,602.9 293.0,600.4 293.5,597.9 294.0,595.4 294.5,592.9 295.0,590.4 295.5,588.5 296.0,586.7 296.5,585.0 297.0,583.4 297.5,581.7 298.0,580.0 298.5,578.4 299.0,576.7 299.5,573.5 300.0,570.3 300.5,567.2 301.0,564.1 301.5,561.0 302.0,557.9 302.5,554.8 303.0,551.7 303.5,548.6 304.0,545.5 304.5,542.4 305.0,539.3 305.5,536.0 306.0,531.7 306.5,527.5 307.0,523.3 307.5,519.1 308.0,514.9 308.5,510.7 309.0,506.5 309.5,502.3 310.0,498.1 310.5,493.9 311.0,489.7 311.5,485.4 312.0,477.1 312.5,467.8 313.0,458.4 313.5,451.4 314.0,445.9 314.5,440.4 315.0,434.8 315.5,429.3 316.0,423.0 316.5,415.5 317.0,408.0 317.5,400.5 318.0,393.0 318.5,385.5 319.0,378.0 319.5,370.5 320.0,363.0 320.5,362.0 321.0,361.0 321.5,360.0 322.0,359.0 322.5,358.0 323.0,354.0 323.5,347.9 324.0,341.8 324.5,335.7 325.0,329.7 325.5,323.6 326.0,317.5 326.5,311.4 327.0,306.8 327.5,303.1 328.0,299.5 328.5,295.8 329.0,292.9 333.5,292.9 334.0,286.4 334.5,279.9 335.0,273.4 335.5,266.9 336.0,260.4 336.5,254.8 337.0,249.7 337.5,244.6 338.0,239.6 338.5,234.5 339.0,229.4 339.5,224.0 340.0,220.0 345.5,220.0 346.0,213.2 346.5,204.7 347.0,217.6 347.5,220.8 348.0,223.9 348.5,227.0 349.0,230.1 349.5,233.3 350.0,236.4 350.5,239.3 351.0,241.3 351.5,243.3 352.0,245.3 352.5,247.3 353.0,249.3 353.5,252.9 354.0,257.0 354.5,261.0 355.0,265.0 355.5,269.1 356.0,273.1 356.5,277.2 357.0,281.2 357.5,283.3 358.0,285.0 358.5,286.6 359.0,288.3 359.5,290.0 360.0,291.6 360.5,293.3 361.0,294.9 361.5,315.5 362.0,348.7 362.5,381.9 367.0,381.9 367.5,386.2 368.0,390.4 368.5,392.6 369.0,394.8 369.5,397.0 370.0,399.2 370.5,401.4 371.0,403.6 371.5,405.8 372.0,408.0 372.5,410.2 373.0,414.2 373.5,420.9 374.0,427.7 374.5,434.4 375.0,441.2 375.5,447.9 376.0,454.7 376.5,457.7 377.0,460.8 377.5,463.8 378.0,466.9 378.5,469.9 379.0,472.9 379.5,476.0 380.0,479.0 386.0,479.0 386.5,477.5 387.0,476.0 387.5,474.5 388.0,473.1 388.5,478.3 389.0,484.1 389.5,489.8 395.0,489.8 395.5,491.8 396.0,494.9 396.5,499.6 397.0,504.0 397.5,508.3 398.0,510.9 398.5,513.4 399.0,515.9 399.5,518.6 400.0,521.4 400.5,524.9 401.0,528.6 401.5,532.6 402.0,538.1 402.5,542.7 403.0,545.7 403.5,547.9 404.0,550.0 404.5,552.2 405.0,554.3 405.5,556.3 406.0,557.8 406.5,559.3 407.0,560.8 407.5,562.3 408.0,563.8 408.5,565.4 409.0,566.9 409.5,568.4 410.0,569.9 410.5,571.4 411.0,570.8 411.5,568.8 412.0,566.8 412.5,564.8 413.0,562.8 413.5,560.7 414.0,558.7 414.5,556.7 415.0,554.7 415.5,552.7 416.0,550.7 416.5,557.1 417.0,563.4 417.5,569.8 418.0,576.1 418.5,582.5 419.0,588.8 419.5,595.2 420.0,601.5 420.5,607.9 421.0,604.3 421.5,600.6 422.0,597.0 422.5,593.3 423.0,589.7 423.5,586.1 424.0,582.4 424.5,578.8 425.0,575.1 425.5,571.5 426.0,569.3 426.5,573.1 427.0,576.8 427.5,580.6 428.0,584.3 428.5,588.1 429.0,591.8 429.5,595.5 430.0,599.3 430.5,603.0 431.0,606.8 431.5,610.5 432.0,614.3 432.5,613.4 433.0,611.4 433.5,609.5 434.0,607.5 434.5,605.5 435.0,603.5 435.5,601.5 436.0,599.5 436.5,597.6 437.0,595.6 437.5,593.6 438.0,594.3 438.5,594.9 439.0,595.6 439.5,596.2 440.0,596.9 440.5,597.5 441.0,598.2 441.5,598.9 442.0,599.5 442.5,600.2 443.0,601.2 443.5,603.7 444.0,606.3 444.5,608.8 445.0,611.3 445.5,613.8 446.0,616.4 446.5,618.9 447.0,621.4 447.5,624.0 448.0,626.5 448.5,627.7 449.5,628.2 450.5,628.7 451.5,629.2 452.5,629.7 453.5,630.2 454.5,630.7 455.5,631.2 456.5,631.7 457.5,632.2 458.5,632.7 459.5,633.4 460.0,633.8 460.5,634.3 461.0,634.7 461.5,635.1 462.0,635.6 462.5,636.0 463.0,636.4 463.5,636.8 464.0,637.3 464.5,637.7 465.0,638.1 465.5,638.5 466.0,639.0 466.5,639.4 467.0,639.8 467.5,640.3 468.0,640.7 468.5,641.1 469.0,641.5 469.5,642.0 470.0,642.4 470.5,642.8 471.0,643.3 471.5,643.7 472.5,644.3 473.5,645.0 474.5,645.7 475.5,646.3 476.5,647.0 477.5,647.6 478.5,648.3 479.5,649.0 480.5,649.6 481.5,650.3 482.0,650.6 485.5,650.2 488.5,649.7 490.0,649.5 490.5,648.7 491.0,647.9 491.5,648.3 492.0,647.2 492.5,646.0 493.0,644.8 493.5,643.9 494.0,645.3 494.5,646.6 495.0,648.0 495.5,649.4 496.0,650.8 496.5,652.1 497.0,653.5 497.5,653.2 498.0,652.4 498.5,652.7 499.0,653.5 499.5,653.1 500.0,650.8 500.5,648.6 501.0,647.9 501.5,647.1 502.0,646.4 502.5,645.6 503.0,645.3 503.5,647.2 504.0,650.4 504.5,652.4 505.0,649.2 505.5,646.0 506.0,645.3 507.5,645.3 508.0,646.0 508.5,647.2 509.0,648.5 509.5,649.7 510.0,650.9 510.5,652.1 511.0,653.3 511.5,655.2 512.0,657.6 512.5,659.9 513.0,662.3 513.5,664.7 514.0,667.0 514.5,669.4 515.0,670.5 515.5,669.8 516.0,669.1 516.5,668.3 517.0,667.6 517.5,667.2 518.0,666.2 518.5,665.4 519.0,664.7 519.5,664.0 520.0,663.0 520.5,661.9 521.0,660.8 521.5,659.7 522.0,658.6 522.5,657.5 523.0,656.4 523.5,655.4 524.0,654.3 524.5,653.2 525.0,652.1 525.5,651.0 526.0,649.9 526.5,648.8 527.0,648.7 527.5,650.2 528.0,651.7 528.5,653.3 529.0,654.8 529.5,656.3 530.0,658.6 530.5,661.0 531.0,663.5 531.5,667.5 532.0,668.4 532.5,670.8 533.0,667.9 533.5,665.0 534.0,662.2 534.5,659.3 535.0,661.5 535.5,663.9 536.0,666.8 536.5,669.6 537.0,671.0 537.5,671.5 538.0,671.9 538.5,672.3 539.0,672.7 539.5,673.1 540.0,673.5 540.5,673.9 541.0,674.3 542.0,673.7 543.0,673.0 544.0,672.4 545.0,671.8 546.0,671.2 547.0,670.6 548.0,670.2 549.0,669.8 549.5,669.6 550.0,670.1 550.5,669.2 551.5,668.8 552.5,668.4 553.5,668.0 554.0,669.1 554.5,671.0 555.0,672.9 555.5,674.8 556.0,676.8 556.5,678.7 557.0,680.6 557.5,682.0 558.0,683.0 558.5,684.0 559.0,685.0 559.5,685.9 560.0,686.9 560.5,687.9 561.0,688.6 562.0,689.1 563.0,689.6 564.0,690.1 565.0,690.6 566.0,691.1 567.0,691.6 567.5,691.9 568.0,692.4 568.5,693.4 569.0,694.3 569.5,695.3 570.0,696.3 570.5,697.2 571.0,698.2 571.5,699.1 572.5,699.6 573.5,700.2 574.5,700.7 575.0,701.0 822.5,701.0 822,701.0" fill="#595a5e"/>
<polyline points="117.5,1352.6 138.9,1352.6 140.9,1347.6 143.9,1344.2 145.8,1347.0 147.8,1342.6 156.8,1342.6 159.8,1338.3 162.8,1332.7 166.7,1327.7 169.7,1319.8 173.7,1313.8 176.7,1307.8 179.7,1307.2 181.7,1298.9 183.7,1301.8 186.6,1281.0 188.6,1271.0 191.0,1259.0 192.6,1267.0 194.6,1265.0 196.6,1273.0 199.6,1266.0 202.6,1241.1 206.5,1237.2 211.5,1223.2 213.5,1205.3 218.5,1167.5 222.5,1153.6 225.4,1115.8 229.0,1103.4 231.1,1087.3 234.1,1079.2 236.1,1097.4 238.2,1103.4 240.2,1107.5 242.2,1101.4 244.8,1143.9 247.7,1115.6 250.3,1127.7 253.3,1094.3 255.4,1097.4 256.4,1141.9 257.4,1190.5 258.4,1202.6 262.4,1226.9 265.5,1216.8 267.5,1194.5 269.5,1233.0 272.6,1257.2 274.6,1282.5 276.0,1269.4 278.0,1297.7 280.6,1283.5 282.7,1301.7 284.7,1279.5 287.7,1289.6 290.8,1327.0 295.4,1313.9 298.9,1352.3 300.9,1344.2 302.9,1356.4 305.5,1339.2 308.0,1356.4 311.0,1349.3 314.0,1357.4 317.1,1349.3 320.1,1358.4 328.2,1354.4 331.2,1358.4 335.3,1352.3 338.3,1358.0 343.4,1353.4 346.0,1358.5" fill="none" stroke="#8a8c8f" stroke-width="1.7" stroke-linejoin="round"/>
<polyline points="330.0,1357.9 334.8,1353.1 339.6,1357.9 344.3,1353.1 347.9,1356.7 351.5,1348.4 353.9,1347.2 356.8,1323.2 359.2,1349.5 362.3,1328.0 365.9,1307.7 368.3,1330.4 371.8,1299.3 374.2,1311.3 377.8,1285.0 381.4,1316.0 385.0,1288.6 388.6,1268.2 391.0,1234.8 392.6,1251.5 394.6,1220.4 399.3,1194.1 402.9,1177.4 405.3,1201.3 407.7,1155.9 408.9,1201.3 412.5,1122.4 415.6,1163.0 419.0,1080.5 420.9,1132.0 425.6,1086.5 428.5,1060.2 430.0,1062.6 431.9,1124.8 433.3,1016.0 435.3,1172.7 437.2,1096.1 438.6,1065.0 440.8,1124.8 442.0,1096.1 443.9,1127.2 445.6,1100.9 447.2,1158.3 449.1,1110.5 451.1,1091.3 452.7,1182.2 454.4,1129.6 456.3,1213.3 458.2,1160.7 461.1,1196.6 463.5,1211.0 465.9,1251.6 468.8,1228.9 471.9,1297.1 475.5,1311.4 479.0,1321.0 482.6,1335.4 486.2,1344.9 489.8,1354.5 491.7,1335.4 494.1,1355.7 498.2,1349.7 501.8,1356.9 505.0,1358.5" fill="none" stroke="#4f5053" stroke-width="2.0" stroke-linejoin="round"/>
<polyline points="586.5,1352.5 607.4,1352.5 609.4,1347.5 612.4,1344.0 614.3,1346.8 616.3,1342.4 625.3,1342.4 628.3,1338.0 631.3,1332.4 635.2,1327.3 638.2,1319.3 642.2,1313.2 645.2,1307.2 648.2,1306.6 650.2,1298.2 652.2,1301.1 655.1,1280.1 657.1,1269.9 659.5,1257.8 661.1,1265.9 663.1,1263.9 665.1,1272.0 668.1,1264.9 671.1,1239.7 675.0,1235.7 680.0,1221.6 682.0,1203.4 687.0,1165.2 691.0,1151.1 693.9,1112.9 697.5,1100.3 699.6,1084.0 702.6,1075.8 704.6,1094.3 706.7,1100.3 708.7,1104.5 710.7,1098.3 713.3,1141.3 716.2,1112.7 718.8,1124.9 721.8,1091.1 723.9,1094.3 724.9,1139.3 725.9,1188.5 726.9,1200.7 730.9,1225.3 734.0,1215.1 736.0,1192.5 738.0,1231.5 741.1,1256.0 743.1,1281.6 744.5,1268.3 746.5,1297.0 749.1,1282.6 751.2,1301.0 753.2,1278.5 756.2,1288.8 759.3,1326.6 763.9,1313.3 767.4,1352.2 769.4,1344.0 771.4,1356.4 774.0,1339.0 776.5,1356.4 779.5,1349.2 782.5,1357.4 785.6,1349.2 788.6,1358.4 796.7,1354.3 799.7,1358.4 803.8,1352.2 806.8,1358.0 811.9,1353.3 814.5,1358.5" fill="none" stroke="#8a8c8f" stroke-width="1.7" stroke-linejoin="round"/>
<polyline points="704.9,1356.9 711.2,1355.9 717.6,1356.9 727.2,1358.0 734.6,1348.4 737.8,1358.0 743.1,1352.7 747.3,1358.0 752.7,1348.4 755.8,1351.6 761.2,1348.4 765.4,1358.0 769.7,1338.9 771.8,1330.4 773.9,1313.4 776.7,1335.7 781.3,1287.9 784.5,1309.1 788.8,1307.0 791.5,1283.6 795.1,1248.6 798.3,1307.0 800.0,1232.5 801.9,1261.2 804.3,1227.7 807.2,1230.1 810.8,1187.0 813.9,1256.4 816.7,1201.4 819.1,1187.0 822.0,1127.2 823.9,1158.3 825.8,1148.8 827.5,1201.4 829.2,1112.9 831.1,1144.0 835.9,1093.7 838.3,1122.4 840.2,1081.8 843.1,1084.2 845.0,1124.8 847.4,1072.2 849.8,1105.7 852.2,1048.3 855.0,1016.0 857.4,1053.1 861.0,1115.3 864.1,1026.7 867.0,1062.6 869.4,1124.8 871.3,1077.0 876.1,1179.9 877.8,1163.1 882.5,1136.8 885.6,1211.0 887.3,1163.1 889.7,1191.8 891.2,1180.0 891.9,1195.0 892.7,1227.4 894.4,1266.1 895.6,1207.4 897.2,1261.1 898.5,1228.6 900.0,1281.0 903.5,1281.0 905.2,1248.0 908.7,1272.3 910.0,1301.0 912.2,1299.7 913.7,1311.0 916.4,1342.1 918.4,1312.8 923.1,1339.6 926.4,1322.8 928.0,1357.1 930.5,1353.4 933.7,1347.7 936.1,1354.0 939.3,1357.7 942.0,1358.5" fill="none" stroke="#4f5053" stroke-width="2.0" stroke-linejoin="round"/>
<polyline points="1070.3,1358.3 1072.7,1351.9 1075.1,1345.6 1077.4,1337.7 1080.6,1323.4 1083.0,1317.1 1086.2,1313.9 1088.5,1307.6 1091.7,1321.8 1098.0,1322.6 1103.6,1298.8 1106.8,1301.2 1108.4,1305.2 1111.5,1296.5 1114.7,1282.2 1117.1,1275.8 1121.0,1273.5 1123.4,1244.1 1127.4,1234.6 1129.0,1241.0 1132.1,1233.0 1134.5,1225.9 1136.9,1221.9 1140.1,1195.0 1143.2,1195.0 1146.4,1210.1 1148.8,1182.3 1151.2,1162.5 1154.3,1177.6 1158.3,1137.9 1159.9,1176.0 1163.0,1162.5 1164.6,1183.9 1167.8,1201.3 1171.0,1169.6 1172.9,1213.4 1176.0,1237.4 1179.6,1258.9 1183.2,1314.0 1186.8,1290.0 1190.3,1304.4 1192.0,1330.7 1195.1,1349.9 1198.7,1354.7 1203.5,1347.5 1205.9,1357.1 1213.1,1355.9 1229.8,1354.7 1232.2,1358.3" fill="none" stroke="#8a8c8f" stroke-width="1.7" stroke-linejoin="round"/>
<polyline points="1150.0,1358.5 1152.0,1358.3 1155.1,1355.1 1159.9,1355.1 1162.3,1358.3 1166.2,1353.5 1171.8,1339.3 1176.0,1354.7 1182.0,1340.3 1184.4,1330.7 1189.1,1325.9 1192.7,1282.9 1195.1,1304.4 1196.3,1306.8 1198.7,1226.6 1202.3,1288.8 1205.9,1218.2 1208.3,1169.2 1211.9,1163.2 1214.3,1185.9 1215.5,1146.4 1217.9,1184.7 1220.3,1129.7 1222.2,1185.9 1223.9,1132.1 1226.7,1065.0 1228.6,1127.3 1231.8,1115.3 1235.8,1041.1 1239.4,1069.8 1242.3,1120.1 1246.1,1041.1 1249.5,1153.6 1253.8,1020.8 1256.6,1144.0 1258.0,1150.0 1259.4,1192.0 1260.1,1241.3 1262.3,1202.2 1263.8,1205.1 1265.9,1251.4 1268.1,1257.2 1270.3,1234.1 1271.7,1289.1 1273.2,1283.3 1276.8,1297.8 1279.7,1302.2 1281.9,1322.5 1287.0,1347.1 1291.3,1331.2 1294.2,1358.7 1296.4,1338.4 1298.6,1354.3 1302.2,1358.7 1305.8,1355.8 1309.4,1357.2 1312.0,1358.5" fill="none" stroke="#4f5053" stroke-width="2.0" stroke-linejoin="round"/>
<polyline points="1529.5,1357.6 1531.9,1348.0 1534.3,1338.6 1536.6,1326.8 1539.8,1305.4 1542.2,1296.0 1545.4,1291.2 1547.7,1281.8 1550.9,1303.0 1557.2,1304.2 1562.8,1268.7 1566.0,1272.3 1567.6,1278.2 1570.7,1265.2 1573.9,1243.9 1576.3,1234.3 1580.2,1230.9 1582.6,1186.9 1586.6,1172.8 1588.2,1182.3 1591.3,1170.4 1593.7,1159.8 1596.1,1153.8 1599.3,1113.6 1602.4,1113.6 1605.6,1136.1 1608.0,1094.6 1610.4,1065.0 1613.5,1087.6 1617.5,1028.3 1619.1,1085.2 1622.2,1065.0 1623.8,1097.0 1627.0,1123.0 1630.2,1075.6 1632.1,1141.1 1635.2,1176.9 1638.8,1209.1 1642.4,1291.4 1646.0,1255.5 1649.5,1277.0 1651.2,1316.3 1654.3,1345.0 1657.9,1352.2 1662.7,1341.4 1665.1,1355.8 1672.3,1354.0 1689.0,1352.2 1691.4,1357.6" fill="none" stroke="#8a8c8f" stroke-width="1.7" stroke-linejoin="round"/>
<polyline points="1560.0,1358.5 1561.9,1358.4 1563.0,1350.2 1574.7,1350.2 1575.8,1358.4 1581.6,1358.4 1584.0,1350.2 1587.4,1345.6 1589.8,1338.6 1593.3,1350.2 1600.2,1338.6 1603.7,1350.2 1608.4,1350.2 1613.0,1327.0 1616.5,1338.6 1618.3,1338.7 1620.6,1331.6 1623.9,1278.5 1627.7,1337.5 1631.2,1325.7 1633.6,1315.1 1636.0,1304.5 1638.3,1313.9 1641.3,1284.4 1643.6,1266.7 1645.4,1291.5 1647.5,1325.7 1650.7,1292.7 1654.2,1280.9 1656.0,1289.1 1659.3,1231.3 1663.7,1302.1 1665.5,1267.9 1667.8,1278.5 1671.1,1290.3 1673.7,1243.1 1676.1,1278.5 1680.2,1313.9 1682.0,1243.1 1684.9,1302.1 1687.9,1291.5 1690.0,1300.9 1691.7,1207.1 1693.2,1266.7 1695.0,1267.9 1696.7,1313.9 1699.9,1254.9 1700.9,1313.9 1703.2,1279.7 1705.6,1313.9 1707.9,1279.7 1711.2,1325.7 1714.4,1256.1 1717.6,1290.3 1720.9,1254.9 1724.2,1325.7 1727.4,1244.7 1730.3,1302.2 1734.1,1182.5 1737.0,1302.2 1739.4,1244.7 1741.8,1290.2 1744.2,1208.8 1746.6,1239.9 1749.0,1110.6 1752.5,1254.3 1754.2,1086.6 1759.7,1254.3 1763.3,1134.6 1765.2,1194.4 1766.9,1098.6 1772.9,1194.4 1775.3,1122.6 1778.2,1242.3 1781.8,1014.8 1784.9,1158.5 1787.3,1050.7 1790.9,1194.4 1793.3,1050.7 1796.9,1194.4 1797.4,1193.4 1800.0,1157.6 1803.0,1119.8 1804.4,1075.0 1805.3,1155.6 1806.0,1205.3 1807.9,1197.4 1810.5,1279.0 1813.9,1221.2 1816.9,1227.2 1818.9,1207.3 1821.9,1253.1 1823.9,1207.3 1824.9,1255.1 1827.8,1308.8 1829.8,1326.7 1831.2,1290.9 1832.8,1326.7 1833.8,1267.0 1835.8,1314.8 1836.8,1279.0 1839.8,1312.8 1842.8,1350.6 1844.8,1340.6 1847.1,1358.6 1852.7,1350.6 1854.7,1358.6 1862.7,1358.6 1866.2,1350.6 1867.6,1359.5" fill="none" stroke="#4f5053" stroke-width="2.0" stroke-linejoin="round"/></g>
<text x="468.72" y="34.50" font-size="42" textLength="21.50" lengthAdjust="spacingAndGlyphs" font-style="italic" fill="#231f20" >a</text>
<line x1="137.00" y1="49.00" x2="137.00" y2="701.80" stroke="#231f20" stroke-width="2.2"/>
<line x1="136.00" y1="701.00" x2="822.50" y2="701.00" stroke="#231f20" stroke-width="2.4"/>
<line x1="137.00" y1="321.00" x2="151.00" y2="321.00" stroke="#231f20" stroke-width="2.2"/>
<text x="59.69" y="332.90" font-size="40.46" textLength="61.88" lengthAdjust="spacingAndGlyphs" fill="#231f20">200</text>
<line x1="142.76" y1="701.00" x2="142.76" y2="710.50" stroke="#231f20" stroke-width="2.0"/>
<line x1="156.97" y1="701.00" x2="156.97" y2="710.50" stroke="#231f20" stroke-width="2.0"/>
<line x1="168.58" y1="701.00" x2="168.58" y2="710.50" stroke="#231f20" stroke-width="2.0"/>
<line x1="178.39" y1="701.00" x2="178.39" y2="710.50" stroke="#231f20" stroke-width="2.0"/>
<line x1="186.89" y1="701.00" x2="186.89" y2="710.50" stroke="#231f20" stroke-width="2.0"/>
<line x1="194.39" y1="701.00" x2="194.39" y2="710.50" stroke="#231f20" stroke-width="2.0"/>
<line x1="201.10" y1="701.00" x2="201.10" y2="714.50" stroke="#231f20" stroke-width="2.2"/>
<line x1="245.23" y1="701.00" x2="245.23" y2="710.50" stroke="#231f20" stroke-width="2.0"/>
<line x1="271.05" y1="701.00" x2="271.05" y2="710.50" stroke="#231f20" stroke-width="2.0"/>
<line x1="289.36" y1="701.00" x2="289.36" y2="710.50" stroke="#231f20" stroke-width="2.0"/>
<line x1="303.57" y1="701.00" x2="303.57" y2="710.50" stroke="#231f20" stroke-width="2.0"/>
<line x1="315.18" y1="701.00" x2="315.18" y2="710.50" stroke="#231f20" stroke-width="2.0"/>
<line x1="324.99" y1="701.00" x2="324.99" y2="710.50" stroke="#231f20" stroke-width="2.0"/>
<line x1="333.49" y1="701.00" x2="333.49" y2="710.50" stroke="#231f20" stroke-width="2.0"/>
<line x1="340.99" y1="701.00" x2="340.99" y2="710.50" stroke="#231f20" stroke-width="2.0"/>
<line x1="347.70" y1="701.00" x2="347.70" y2="714.50" stroke="#231f20" stroke-width="2.2"/>
<line x1="391.83" y1="701.00" x2="391.83" y2="710.50" stroke="#231f20" stroke-width="2.0"/>
<line x1="417.65" y1="701.00" x2="417.65" y2="710.50" stroke="#231f20" stroke-width="2.0"/>
<line x1="435.96" y1="701.00" x2="435.96" y2="710.50" stroke="#231f20" stroke-width="2.0"/>
<line x1="450.17" y1="701.00" x2="450.17" y2="710.50" stroke="#231f20" stroke-width="2.0"/>
<line x1="461.78" y1="701.00" x2="461.78" y2="710.50" stroke="#231f20" stroke-width="2.0"/>
<line x1="471.59" y1="701.00" x2="471.59" y2="710.50" stroke="#231f20" stroke-width="2.0"/>
<line x1="480.09" y1="701.00" x2="480.09" y2="710.50" stroke="#231f20" stroke-width="2.0"/>
<line x1="487.59" y1="701.00" x2="487.59" y2="710.50" stroke="#231f20" stroke-width="2.0"/>
<line x1="494.30" y1="701.00" x2="494.30" y2="714.50" stroke="#231f20" stroke-width="2.2"/>
<line x1="538.43" y1="701.00" x2="538.43" y2="710.50" stroke="#231f20" stroke-width="2.0"/>
<line x1="564.25" y1="701.00" x2="564.25" y2="710.50" stroke="#231f20" stroke-width="2.0"/>
<line x1="582.56" y1="701.00" x2="582.56" y2="710.50" stroke="#231f20" stroke-width="2.0"/>
<line x1="596.77" y1="701.00" x2="596.77" y2="710.50" stroke="#231f20" stroke-width="2.0"/>
<line x1="608.38" y1="701.00" x2="608.38" y2="710.50" stroke="#231f20" stroke-width="2.0"/>
<line x1="618.19" y1="701.00" x2="618.19" y2="710.50" stroke="#231f20" stroke-width="2.0"/>
<line x1="626.69" y1="701.00" x2="626.69" y2="710.50" stroke="#231f20" stroke-width="2.0"/>
<line x1="634.19" y1="701.00" x2="634.19" y2="710.50" stroke="#231f20" stroke-width="2.0"/>
<line x1="640.90" y1="701.00" x2="640.90" y2="714.50" stroke="#231f20" stroke-width="2.2"/>
<line x1="685.03" y1="701.00" x2="685.03" y2="710.50" stroke="#231f20" stroke-width="2.0"/>
<line x1="710.85" y1="701.00" x2="710.85" y2="710.50" stroke="#231f20" stroke-width="2.0"/>
<line x1="729.16" y1="701.00" x2="729.16" y2="710.50" stroke="#231f20" stroke-width="2.0"/>
<line x1="743.37" y1="701.00" x2="743.37" y2="710.50" stroke="#231f20" stroke-width="2.0"/>
<line x1="754.98" y1="701.00" x2="754.98" y2="710.50" stroke="#231f20" stroke-width="2.0"/>
<line x1="764.79" y1="701.00" x2="764.79" y2="710.50" stroke="#231f20" stroke-width="2.0"/>
<line x1="773.29" y1="701.00" x2="773.29" y2="710.50" stroke="#231f20" stroke-width="2.0"/>
<line x1="780.79" y1="701.00" x2="780.79" y2="710.50" stroke="#231f20" stroke-width="2.0"/>
<line x1="787.50" y1="701.00" x2="787.50" y2="714.50" stroke="#231f20" stroke-width="2.2"/>
<text x="175.35" y="761.79" font-size="41.79" textLength="38.10" lengthAdjust="spacingAndGlyphs" fill="#231f20">10</text>
<text x="213.06" y="746.71" font-size="29.62" textLength="14.04" lengthAdjust="spacingAndGlyphs" fill="#231f20">3</text>
<text x="321.95" y="761.79" font-size="41.79" textLength="38.10" lengthAdjust="spacingAndGlyphs" fill="#231f20">10</text>
<text x="360.51" y="747.00" font-size="30.23" textLength="12.48" lengthAdjust="spacingAndGlyphs" fill="#231f20">4</text>
<text x="468.55" y="761.79" font-size="41.79" textLength="38.10" lengthAdjust="spacingAndGlyphs" fill="#231f20">10</text>
<text x="505.93" y="746.71" font-size="29.95" textLength="14.40" lengthAdjust="spacingAndGlyphs" fill="#231f20">5</text>
<text x="615.15" y="761.79" font-size="41.79" textLength="38.10" lengthAdjust="spacingAndGlyphs" fill="#231f20">10</text>
<text x="653.03" y="746.71" font-size="29.62" textLength="13.58" lengthAdjust="spacingAndGlyphs" fill="#231f20">6</text>
<text x="761.75" y="761.79" font-size="41.79" textLength="38.10" lengthAdjust="spacingAndGlyphs" fill="#231f20">10</text>
<text x="798.91" y="747.00" font-size="30.39" textLength="14.31" lengthAdjust="spacingAndGlyphs" fill="#231f20">7</text>
<text x="100.49" y="713.79" font-size="41.94" textLength="21.12" lengthAdjust="spacingAndGlyphs" fill="#231f20">0</text>
<text x="229.00" y="104.60" font-size="41" textLength="299.88" lengthAdjust="spacingAndGlyphs" fill="#231f20" >Живые (88.60%)</text>
<text x="473.80" y="262.90" font-size="41" textLength="327.03" lengthAdjust="spacingAndGlyphs" fill="#231f20" >Мертвые (11.40%)</text>
<line x1="190.00" y1="128.50" x2="568.30" y2="128.50" stroke="#231f20" stroke-width="2.2"/>
<line x1="190.00" y1="122.00" x2="190.00" y2="136.00" stroke="#231f20" stroke-width="2.4"/>
<line x1="568.30" y1="121.60" x2="568.30" y2="135.60" stroke="#231f20" stroke-width="2.4"/>
<line x1="569.40" y1="300.60" x2="704.00" y2="300.60" stroke="#231f20" stroke-width="2.2"/>
<line x1="569.40" y1="294.00" x2="569.40" y2="307.60" stroke="#231f20" stroke-width="2.4"/>
<line x1="704.00" y1="294.00" x2="704.00" y2="307.60" stroke="#231f20" stroke-width="2.4"/>
<text transform="rotate(-90)" x="-500.15" y="35.40" font-size="43" textLength="250.91" lengthAdjust="spacingAndGlyphs" fill="#231f20">Число клеток</text>
<text x="227.43" y="811.50" font-size="41" textLength="502.44" lengthAdjust="spacingAndGlyphs" fill="#231f20" >Флуоресценция PI, отн. ед.</text>
<text x="1476.12" y="34.00" font-size="42" textLength="21.53" lengthAdjust="spacingAndGlyphs" font-style="italic" fill="#231f20" >б</text>
<line x1="1132.20" y1="68.00" x2="1132.20" y2="733.00" stroke="#231f20" stroke-width="2.2"/>
<line x1="1131.00" y1="732.20" x2="1841.00" y2="732.20" stroke="#231f20" stroke-width="2.4"/>
<line x1="1132.00" y1="731.90" x2="1146.20" y2="731.90" stroke="#231f20" stroke-width="2.2"/>
<text x="1095.68" y="744.10" font-size="41.35" textLength="21.24" lengthAdjust="spacingAndGlyphs" fill="#231f20">0</text>
<line x1="1132.00" y1="665.58" x2="1146.20" y2="665.58" stroke="#231f20" stroke-width="2.2"/>
<text x="1072.05" y="677.78" font-size="41.35" textLength="44.96" lengthAdjust="spacingAndGlyphs" fill="#231f20">10</text>
<line x1="1132.00" y1="599.26" x2="1146.20" y2="599.26" stroke="#231f20" stroke-width="2.2"/>
<text x="1074.12" y="611.46" font-size="41.35" textLength="42.81" lengthAdjust="spacingAndGlyphs" fill="#231f20">20</text>
<line x1="1132.00" y1="532.94" x2="1146.20" y2="532.94" stroke="#231f20" stroke-width="2.2"/>
<text x="1073.94" y="545.14" font-size="41.35" textLength="42.99" lengthAdjust="spacingAndGlyphs" fill="#231f20">30</text>
<line x1="1132.00" y1="466.62" x2="1146.20" y2="466.62" stroke="#231f20" stroke-width="2.2"/>
<text x="1075.19" y="478.82" font-size="41.35" textLength="41.70" lengthAdjust="spacingAndGlyphs" fill="#231f20">40</text>
<line x1="1132.00" y1="400.30" x2="1146.20" y2="400.30" stroke="#231f20" stroke-width="2.2"/>
<text x="1073.47" y="412.50" font-size="41.35" textLength="43.48" lengthAdjust="spacingAndGlyphs" fill="#231f20">50</text>
<line x1="1132.00" y1="333.98" x2="1146.20" y2="333.98" stroke="#231f20" stroke-width="2.2"/>
<text x="1074.16" y="346.18" font-size="41.35" textLength="42.77" lengthAdjust="spacingAndGlyphs" fill="#231f20">60</text>
<line x1="1132.00" y1="267.66" x2="1146.20" y2="267.66" stroke="#231f20" stroke-width="2.2"/>
<text x="1073.11" y="279.86" font-size="41.35" textLength="43.86" lengthAdjust="spacingAndGlyphs" fill="#231f20">70</text>
<line x1="1132.00" y1="201.34" x2="1146.20" y2="201.34" stroke="#231f20" stroke-width="2.2"/>
<text x="1074.38" y="213.54" font-size="41.35" textLength="42.54" lengthAdjust="spacingAndGlyphs" fill="#231f20">80</text>
<line x1="1132.00" y1="135.02" x2="1146.20" y2="135.02" stroke="#231f20" stroke-width="2.2"/>
<text x="1074.64" y="147.22" font-size="41.35" textLength="42.27" lengthAdjust="spacingAndGlyphs" fill="#231f20">90</text>
<line x1="1132.00" y1="68.70" x2="1146.20" y2="68.70" stroke="#231f20" stroke-width="2.2"/>
<text x="1057.85" y="80.90" font-size="41.35" textLength="58.95" lengthAdjust="spacingAndGlyphs" fill="#231f20">100</text>
<text transform="rotate(-90)" x="-594.49" y="1053.50" font-size="42" textLength="387.85" lengthAdjust="spacingAndGlyphs" fill="#231f20">Доля в популяции, %</text>
<rect x="1194.2" y="219.5" width="116.20000000000005" height="10" fill="url(#bh0)"/>
<rect x="1194.2" y="229.5" width="116.20000000000005" height="501.70000000000005" fill="url(#bg0)"/>
<line x1="1252.00" y1="223.00" x2="1252.00" y2="235.70" stroke="#46474a" stroke-width="2.3"/>
<line x1="1245.50" y1="223.00" x2="1258.50" y2="223.00" stroke="#46474a" stroke-width="2.2"/>
<line x1="1245.50" y1="235.70" x2="1258.50" y2="235.70" stroke="#46474a" stroke-width="2.2"/>
<text x="1226.46" y="190.40" font-size="40" textLength="43.02" lengthAdjust="spacingAndGlyphs" fill="#231f20" >76</text>
<rect x="1430.2" y="679.9" width="118.79999999999995" height="10" fill="url(#bh1)"/>
<rect x="1430.2" y="689.9" width="118.79999999999995" height="41.30000000000007" fill="url(#bg1)"/>
<line x1="1488.80" y1="681.60" x2="1488.80" y2="696.70" stroke="#46474a" stroke-width="2.3"/>
<line x1="1482.30" y1="681.60" x2="1495.30" y2="681.60" stroke="#46474a" stroke-width="2.2"/>
<line x1="1482.30" y1="696.70" x2="1495.30" y2="696.70" stroke="#46474a" stroke-width="2.2"/>
<text x="1475.02" y="650.00" font-size="40" textLength="21.10" lengthAdjust="spacingAndGlyphs" fill="#231f20" >7</text>
<rect x="1668.1" y="612" width="117.70000000000005" height="10" fill="url(#bh2)"/>
<rect x="1668.1" y="622" width="117.70000000000005" height="109.20000000000005" fill="url(#bg2)"/>
<line x1="1725.90" y1="615.00" x2="1725.90" y2="630.20" stroke="#46474a" stroke-width="2.3"/>
<line x1="1719.40" y1="615.00" x2="1732.40" y2="615.00" stroke="#46474a" stroke-width="2.2"/>
<line x1="1719.40" y1="630.20" x2="1732.40" y2="630.20" stroke="#46474a" stroke-width="2.2"/>
<text x="1706.92" y="588.00" font-size="40" textLength="35.10" lengthAdjust="spacingAndGlyphs" fill="#231f20" >17</text>
<text x="1192.91" y="779.79" font-size="41.97" textLength="35.00" lengthAdjust="spacingAndGlyphs" fill="#231f20">G</text>
<text x="1227.72" y="789.71" font-size="29.49" textLength="15.45" lengthAdjust="spacingAndGlyphs" fill="#231f20">0</text>
<line x1="1244.80" y1="787.00" x2="1259.00" y2="752.30" stroke="#231f20" stroke-width="2.3"/>
<text x="1259.93" y="779.79" font-size="41.97" textLength="34.67" lengthAdjust="spacingAndGlyphs" fill="#231f20">G</text>
<text x="1295.43" y="790.00" font-size="30.30" textLength="11.79" lengthAdjust="spacingAndGlyphs" fill="#231f20">1</text>
<text x="1478.13" y="780.08" font-size="42.87" textLength="25.51" lengthAdjust="spacingAndGlyphs" fill="#231f20">S</text>
<text x="1677.04" y="779.79" font-size="41.97" textLength="34.45" lengthAdjust="spacingAndGlyphs" fill="#231f20">G</text>
<text x="1711.54" y="790.00" font-size="30.66" textLength="15.47" lengthAdjust="spacingAndGlyphs" fill="#231f20">2</text>
<line x1="1726.90" y1="787.00" x2="1742.30" y2="752.30" stroke="#231f20" stroke-width="2.3"/>
<text x="1744.62" y="779.90" font-size="42.61" textLength="39.59" lengthAdjust="spacingAndGlyphs" fill="#231f20">M</text>
<text x="1005.51" y="903.00" font-size="42" textLength="19.58" lengthAdjust="spacingAndGlyphs" font-style="italic" fill="#231f20" >в</text>
<text transform="rotate(-90)" x="-1277.25" y="36.20" font-size="43" textLength="249.20" lengthAdjust="spacingAndGlyphs" fill="#231f20">Число клеток</text>
<text x="757.93" y="1469.60" font-size="41" textLength="515.65" lengthAdjust="spacingAndGlyphs" fill="#231f20" >Флуоресценция PE, отн. ед.</text>
<line x1="116.60" y1="945.50" x2="116.60" y2="1360.80" stroke="#231f20" stroke-width="2.0"/>
<line x1="115.60" y1="1359.80" x2="530.30" y2="1359.80" stroke="#231f20" stroke-width="2.4"/>
<line x1="116.60" y1="1113.70" x2="130.60" y2="1113.70" stroke="#231f20" stroke-width="2.0"/>
<text x="59.40" y="1125.60" font-size="41.05" textLength="41.27" lengthAdjust="spacingAndGlyphs" fill="#231f20">50</text>
<text x="79.48" y="1371.70" font-size="41.05" textLength="21.24" lengthAdjust="spacingAndGlyphs" fill="#231f20">0</text>
<line x1="128.07" y1="1359.80" x2="128.07" y2="1369.30" stroke="#231f20" stroke-width="1.9"/>
<line x1="142.39" y1="1359.80" x2="142.39" y2="1369.30" stroke="#231f20" stroke-width="1.9"/>
<line x1="152.55" y1="1359.80" x2="152.55" y2="1369.30" stroke="#231f20" stroke-width="1.9"/>
<line x1="160.43" y1="1359.80" x2="160.43" y2="1369.30" stroke="#231f20" stroke-width="1.9"/>
<line x1="166.86" y1="1359.80" x2="166.86" y2="1369.30" stroke="#231f20" stroke-width="1.9"/>
<line x1="172.31" y1="1359.80" x2="172.31" y2="1369.30" stroke="#231f20" stroke-width="1.9"/>
<line x1="177.02" y1="1359.80" x2="177.02" y2="1369.30" stroke="#231f20" stroke-width="1.9"/>
<line x1="181.18" y1="1359.80" x2="181.18" y2="1369.30" stroke="#231f20" stroke-width="1.9"/>
<line x1="184.90" y1="1359.80" x2="184.90" y2="1373.30" stroke="#231f20" stroke-width="2.0"/>
<line x1="209.37" y1="1359.80" x2="209.37" y2="1369.30" stroke="#231f20" stroke-width="1.9"/>
<line x1="223.69" y1="1359.80" x2="223.69" y2="1369.30" stroke="#231f20" stroke-width="1.9"/>
<line x1="233.85" y1="1359.80" x2="233.85" y2="1369.30" stroke="#231f20" stroke-width="1.9"/>
<line x1="241.73" y1="1359.80" x2="241.73" y2="1369.30" stroke="#231f20" stroke-width="1.9"/>
<line x1="248.16" y1="1359.80" x2="248.16" y2="1369.30" stroke="#231f20" stroke-width="1.9"/>
<line x1="253.61" y1="1359.80" x2="253.61" y2="1369.30" stroke="#231f20" stroke-width="1.9"/>
<line x1="258.32" y1="1359.80" x2="258.32" y2="1369.30" stroke="#231f20" stroke-width="1.9"/>
<line x1="262.48" y1="1359.80" x2="262.48" y2="1369.30" stroke="#231f20" stroke-width="1.9"/>
<line x1="266.20" y1="1359.80" x2="266.20" y2="1373.30" stroke="#231f20" stroke-width="2.0"/>
<line x1="290.67" y1="1359.80" x2="290.67" y2="1369.30" stroke="#231f20" stroke-width="1.9"/>
<line x1="304.99" y1="1359.80" x2="304.99" y2="1369.30" stroke="#231f20" stroke-width="1.9"/>
<line x1="315.15" y1="1359.80" x2="315.15" y2="1369.30" stroke="#231f20" stroke-width="1.9"/>
<line x1="323.03" y1="1359.80" x2="323.03" y2="1369.30" stroke="#231f20" stroke-width="1.9"/>
<line x1="329.46" y1="1359.80" x2="329.46" y2="1369.30" stroke="#231f20" stroke-width="1.9"/>
<line x1="334.91" y1="1359.80" x2="334.91" y2="1369.30" stroke="#231f20" stroke-width="1.9"/>
<line x1="339.62" y1="1359.80" x2="339.62" y2="1369.30" stroke="#231f20" stroke-width="1.9"/>
<line x1="343.78" y1="1359.80" x2="343.78" y2="1369.30" stroke="#231f20" stroke-width="1.9"/>
<line x1="347.50" y1="1359.80" x2="347.50" y2="1373.30" stroke="#231f20" stroke-width="2.0"/>
<line x1="371.97" y1="1359.80" x2="371.97" y2="1369.30" stroke="#231f20" stroke-width="1.9"/>
<line x1="386.29" y1="1359.80" x2="386.29" y2="1369.30" stroke="#231f20" stroke-width="1.9"/>
<line x1="396.45" y1="1359.80" x2="396.45" y2="1369.30" stroke="#231f20" stroke-width="1.9"/>
<line x1="404.33" y1="1359.80" x2="404.33" y2="1369.30" stroke="#231f20" stroke-width="1.9"/>
<line x1="410.76" y1="1359.80" x2="410.76" y2="1369.30" stroke="#231f20" stroke-width="1.9"/>
<line x1="416.21" y1="1359.80" x2="416.21" y2="1369.30" stroke="#231f20" stroke-width="1.9"/>
<line x1="420.92" y1="1359.80" x2="420.92" y2="1369.30" stroke="#231f20" stroke-width="1.9"/>
<line x1="425.08" y1="1359.80" x2="425.08" y2="1369.30" stroke="#231f20" stroke-width="1.9"/>
<line x1="428.80" y1="1359.80" x2="428.80" y2="1373.30" stroke="#231f20" stroke-width="2.0"/>
<line x1="453.27" y1="1359.80" x2="453.27" y2="1369.30" stroke="#231f20" stroke-width="1.9"/>
<line x1="467.59" y1="1359.80" x2="467.59" y2="1369.30" stroke="#231f20" stroke-width="1.9"/>
<line x1="477.75" y1="1359.80" x2="477.75" y2="1369.30" stroke="#231f20" stroke-width="1.9"/>
<line x1="485.63" y1="1359.80" x2="485.63" y2="1369.30" stroke="#231f20" stroke-width="1.9"/>
<line x1="492.06" y1="1359.80" x2="492.06" y2="1369.30" stroke="#231f20" stroke-width="1.9"/>
<line x1="497.51" y1="1359.80" x2="497.51" y2="1369.30" stroke="#231f20" stroke-width="1.9"/>
<line x1="502.22" y1="1359.80" x2="502.22" y2="1369.30" stroke="#231f20" stroke-width="1.9"/>
<line x1="506.38" y1="1359.80" x2="506.38" y2="1369.30" stroke="#231f20" stroke-width="1.9"/>
<line x1="510.10" y1="1359.80" x2="510.10" y2="1373.30" stroke="#231f20" stroke-width="2.0"/>
<text x="158.16" y="1420.89" font-size="41.94" textLength="37.99" lengthAdjust="spacingAndGlyphs" fill="#231f20">10</text>
<text x="196.88" y="1406.10" font-size="30.51" textLength="14.97" lengthAdjust="spacingAndGlyphs" fill="#231f20">2</text>
<text x="239.46" y="1420.89" font-size="41.94" textLength="37.99" lengthAdjust="spacingAndGlyphs" fill="#231f20">10</text>
<text x="278.11" y="1405.81" font-size="30.07" textLength="14.52" lengthAdjust="spacingAndGlyphs" fill="#231f20">3</text>
<text x="320.76" y="1420.89" font-size="41.94" textLength="37.99" lengthAdjust="spacingAndGlyphs" fill="#231f20">10</text>
<text x="360.30" y="1406.10" font-size="30.69" textLength="12.91" lengthAdjust="spacingAndGlyphs" fill="#231f20">4</text>
<text x="402.06" y="1420.89" font-size="41.94" textLength="37.99" lengthAdjust="spacingAndGlyphs" fill="#231f20">10</text>
<text x="440.37" y="1405.80" font-size="30.40" textLength="14.89" lengthAdjust="spacingAndGlyphs" fill="#231f20">5</text>
<text x="483.36" y="1420.89" font-size="41.94" textLength="37.99" lengthAdjust="spacingAndGlyphs" fill="#231f20">10</text>
<text x="522.19" y="1405.81" font-size="30.07" textLength="14.04" lengthAdjust="spacingAndGlyphs" fill="#231f20">6</text>
<rect x="277.59999999999997" y="965.4" width="20.899999999999988" height="20.7" fill="#909295" stroke="#333436" stroke-width="1.8"/>
<rect x="277.59999999999997" y="992.1999999999999" width="20.899999999999988" height="20.7" fill="#636468" stroke="#333436" stroke-width="1.8"/>
<g class="sm">
<text x="308.35" y="983.95" font-size="25.28" textLength="32.15" lengthAdjust="spacingAndGlyphs" fill="#231f20">Iso</text>
<text x="307.92" y="1013.05" font-size="25.15" textLength="69.18" lengthAdjust="spacingAndGlyphs" fill="#231f20">CD 44</text>
</g>
<text x="450.80" y="992.94" font-size="42.76" textLength="73.77" lengthAdjust="spacingAndGlyphs" fill="#231f20">99%</text>
<line x1="585.50" y1="945.50" x2="585.50" y2="1360.80" stroke="#231f20" stroke-width="2.0"/>
<line x1="584.50" y1="1359.80" x2="999.10" y2="1359.80" stroke="#231f20" stroke-width="2.4"/>
<line x1="585.50" y1="1110.00" x2="599.50" y2="1110.00" stroke="#231f20" stroke-width="2.0"/>
<text x="528.30" y="1121.90" font-size="41.05" textLength="41.27" lengthAdjust="spacingAndGlyphs" fill="#231f20">50</text>
<text x="548.38" y="1371.70" font-size="41.05" textLength="21.24" lengthAdjust="spacingAndGlyphs" fill="#231f20">0</text>
<line x1="596.44" y1="1359.80" x2="596.44" y2="1369.30" stroke="#231f20" stroke-width="1.9"/>
<line x1="610.76" y1="1359.80" x2="610.76" y2="1369.30" stroke="#231f20" stroke-width="1.9"/>
<line x1="620.93" y1="1359.80" x2="620.93" y2="1369.30" stroke="#231f20" stroke-width="1.9"/>
<line x1="628.81" y1="1359.80" x2="628.81" y2="1369.30" stroke="#231f20" stroke-width="1.9"/>
<line x1="635.25" y1="1359.80" x2="635.25" y2="1369.30" stroke="#231f20" stroke-width="1.9"/>
<line x1="640.70" y1="1359.80" x2="640.70" y2="1369.30" stroke="#231f20" stroke-width="1.9"/>
<line x1="645.42" y1="1359.80" x2="645.42" y2="1369.30" stroke="#231f20" stroke-width="1.9"/>
<line x1="649.58" y1="1359.80" x2="649.58" y2="1369.30" stroke="#231f20" stroke-width="1.9"/>
<line x1="653.30" y1="1359.80" x2="653.30" y2="1373.30" stroke="#231f20" stroke-width="2.0"/>
<line x1="677.79" y1="1359.80" x2="677.79" y2="1369.30" stroke="#231f20" stroke-width="1.9"/>
<line x1="692.11" y1="1359.80" x2="692.11" y2="1369.30" stroke="#231f20" stroke-width="1.9"/>
<line x1="702.28" y1="1359.80" x2="702.28" y2="1369.30" stroke="#231f20" stroke-width="1.9"/>
<line x1="710.16" y1="1359.80" x2="710.16" y2="1369.30" stroke="#231f20" stroke-width="1.9"/>
<line x1="716.60" y1="1359.80" x2="716.60" y2="1369.30" stroke="#231f20" stroke-width="1.9"/>
<line x1="722.05" y1="1359.80" x2="722.05" y2="1369.30" stroke="#231f20" stroke-width="1.9"/>
<line x1="726.77" y1="1359.80" x2="726.77" y2="1369.30" stroke="#231f20" stroke-width="1.9"/>
<line x1="730.93" y1="1359.80" x2="730.93" y2="1369.30" stroke="#231f20" stroke-width="1.9"/>
<line x1="734.65" y1="1359.80" x2="734.65" y2="1373.30" stroke="#231f20" stroke-width="2.0"/>
<line x1="759.14" y1="1359.80" x2="759.14" y2="1369.30" stroke="#231f20" stroke-width="1.9"/>
<line x1="773.46" y1="1359.80" x2="773.46" y2="1369.30" stroke="#231f20" stroke-width="1.9"/>
<line x1="783.63" y1="1359.80" x2="783.63" y2="1369.30" stroke="#231f20" stroke-width="1.9"/>
<line x1="791.51" y1="1359.80" x2="791.51" y2="1369.30" stroke="#231f20" stroke-width="1.9"/>
<line x1="797.95" y1="1359.80" x2="797.95" y2="1369.30" stroke="#231f20" stroke-width="1.9"/>
<line x1="803.40" y1="1359.80" x2="803.40" y2="1369.30" stroke="#231f20" stroke-width="1.9"/>
<line x1="808.12" y1="1359.80" x2="808.12" y2="1369.30" stroke="#231f20" stroke-width="1.9"/>
<line x1="812.28" y1="1359.80" x2="812.28" y2="1369.30" stroke="#231f20" stroke-width="1.9"/>
<line x1="816.00" y1="1359.80" x2="816.00" y2="1373.30" stroke="#231f20" stroke-width="2.0"/>
<line x1="840.49" y1="1359.80" x2="840.49" y2="1369.30" stroke="#231f20" stroke-width="1.9"/>
<line x1="854.81" y1="1359.80" x2="854.81" y2="1369.30" stroke="#231f20" stroke-width="1.9"/>
<line x1="864.98" y1="1359.80" x2="864.98" y2="1369.30" stroke="#231f20" stroke-width="1.9"/>
<line x1="872.86" y1="1359.80" x2="872.86" y2="1369.30" stroke="#231f20" stroke-width="1.9"/>
<line x1="879.30" y1="1359.80" x2="879.30" y2="1369.30" stroke="#231f20" stroke-width="1.9"/>
<line x1="884.75" y1="1359.80" x2="884.75" y2="1369.30" stroke="#231f20" stroke-width="1.9"/>
<line x1="889.47" y1="1359.80" x2="889.47" y2="1369.30" stroke="#231f20" stroke-width="1.9"/>
<line x1="893.63" y1="1359.80" x2="893.63" y2="1369.30" stroke="#231f20" stroke-width="1.9"/>
<line x1="897.35" y1="1359.80" x2="897.35" y2="1373.30" stroke="#231f20" stroke-width="2.0"/>
<line x1="921.84" y1="1359.80" x2="921.84" y2="1369.30" stroke="#231f20" stroke-width="1.9"/>
<line x1="936.16" y1="1359.80" x2="936.16" y2="1369.30" stroke="#231f20" stroke-width="1.9"/>
<line x1="946.33" y1="1359.80" x2="946.33" y2="1369.30" stroke="#231f20" stroke-width="1.9"/>
<line x1="954.21" y1="1359.80" x2="954.21" y2="1369.30" stroke="#231f20" stroke-width="1.9"/>
<line x1="960.65" y1="1359.80" x2="960.65" y2="1369.30" stroke="#231f20" stroke-width="1.9"/>
<line x1="966.10" y1="1359.80" x2="966.10" y2="1369.30" stroke="#231f20" stroke-width="1.9"/>
<line x1="970.82" y1="1359.80" x2="970.82" y2="1369.30" stroke="#231f20" stroke-width="1.9"/>
<line x1="974.98" y1="1359.80" x2="974.98" y2="1369.30" stroke="#231f20" stroke-width="1.9"/>
<line x1="978.70" y1="1359.80" x2="978.70" y2="1373.30" stroke="#231f20" stroke-width="2.0"/>
<text x="626.56" y="1420.89" font-size="41.94" textLength="37.99" lengthAdjust="spacingAndGlyphs" fill="#231f20">10</text>
<text x="665.28" y="1406.10" font-size="30.51" textLength="14.97" lengthAdjust="spacingAndGlyphs" fill="#231f20">2</text>
<text x="707.91" y="1420.89" font-size="41.94" textLength="37.99" lengthAdjust="spacingAndGlyphs" fill="#231f20">10</text>
<text x="746.56" y="1405.81" font-size="30.07" textLength="14.52" lengthAdjust="spacingAndGlyphs" fill="#231f20">3</text>
<text x="789.26" y="1420.89" font-size="41.94" textLength="37.99" lengthAdjust="spacingAndGlyphs" fill="#231f20">10</text>
<text x="828.80" y="1406.10" font-size="30.69" textLength="12.91" lengthAdjust="spacingAndGlyphs" fill="#231f20">4</text>
<text x="870.61" y="1420.89" font-size="41.94" textLength="37.99" lengthAdjust="spacingAndGlyphs" fill="#231f20">10</text>
<text x="908.92" y="1405.80" font-size="30.40" textLength="14.89" lengthAdjust="spacingAndGlyphs" fill="#231f20">5</text>
<text x="951.96" y="1420.89" font-size="41.94" textLength="37.99" lengthAdjust="spacingAndGlyphs" fill="#231f20">10</text>
<text x="990.79" y="1405.81" font-size="30.07" textLength="14.04" lengthAdjust="spacingAndGlyphs" fill="#231f20">6</text>
<rect x="744.1" y="967.6" width="21.099999999999977" height="20.39999999999993" fill="#909295" stroke="#333436" stroke-width="1.8"/>
<rect x="744.1" y="994.4" width="21.099999999999977" height="20.2" fill="#636468" stroke="#333436" stroke-width="1.8"/>
<g class="sm">
<text x="777.80" y="983.95" font-size="25.28" textLength="30.56" lengthAdjust="spacingAndGlyphs" fill="#231f20">Iso</text>
<text x="776.95" y="1013.05" font-size="25.15" textLength="67.34" lengthAdjust="spacingAndGlyphs" fill="#231f20">CD 73</text>
</g>
<text x="894.14" y="992.91" font-size="44.97" textLength="91.80" lengthAdjust="spacingAndGlyphs" fill="#231f20">100%</text>
<line x1="1051.30" y1="945.50" x2="1051.30" y2="1360.80" stroke="#231f20" stroke-width="2.0"/>
<line x1="1050.30" y1="1359.80" x2="1465.10" y2="1359.80" stroke="#231f20" stroke-width="2.4"/>
<line x1="1051.30" y1="1038.10" x2="1065.30" y2="1038.10" stroke="#231f20" stroke-width="2.0"/>
<text x="995.73" y="1050.00" font-size="41.05" textLength="39.58" lengthAdjust="spacingAndGlyphs" fill="#231f20">40</text>
<line x1="1051.30" y1="1197.60" x2="1065.30" y2="1197.60" stroke="#231f20" stroke-width="2.0"/>
<text x="994.71" y="1209.50" font-size="41.05" textLength="40.63" lengthAdjust="spacingAndGlyphs" fill="#231f20">20</text>
<text x="1014.18" y="1371.50" font-size="41.05" textLength="21.24" lengthAdjust="spacingAndGlyphs" fill="#231f20">0</text>
<line x1="1063.61" y1="1359.80" x2="1063.61" y2="1369.30" stroke="#231f20" stroke-width="1.9"/>
<line x1="1077.89" y1="1359.80" x2="1077.89" y2="1369.30" stroke="#231f20" stroke-width="1.9"/>
<line x1="1088.03" y1="1359.80" x2="1088.03" y2="1369.30" stroke="#231f20" stroke-width="1.9"/>
<line x1="1095.89" y1="1359.80" x2="1095.89" y2="1369.30" stroke="#231f20" stroke-width="1.9"/>
<line x1="1102.31" y1="1359.80" x2="1102.31" y2="1369.30" stroke="#231f20" stroke-width="1.9"/>
<line x1="1107.74" y1="1359.80" x2="1107.74" y2="1369.30" stroke="#231f20" stroke-width="1.9"/>
<line x1="1112.44" y1="1359.80" x2="1112.44" y2="1369.30" stroke="#231f20" stroke-width="1.9"/>
<line x1="1116.59" y1="1359.80" x2="1116.59" y2="1369.30" stroke="#231f20" stroke-width="1.9"/>
<line x1="1120.30" y1="1359.80" x2="1120.30" y2="1373.30" stroke="#231f20" stroke-width="2.0"/>
<line x1="1144.71" y1="1359.80" x2="1144.71" y2="1369.30" stroke="#231f20" stroke-width="1.9"/>
<line x1="1158.99" y1="1359.80" x2="1158.99" y2="1369.30" stroke="#231f20" stroke-width="1.9"/>
<line x1="1169.13" y1="1359.80" x2="1169.13" y2="1369.30" stroke="#231f20" stroke-width="1.9"/>
<line x1="1176.99" y1="1359.80" x2="1176.99" y2="1369.30" stroke="#231f20" stroke-width="1.9"/>
<line x1="1183.41" y1="1359.80" x2="1183.41" y2="1369.30" stroke="#231f20" stroke-width="1.9"/>
<line x1="1188.84" y1="1359.80" x2="1188.84" y2="1369.30" stroke="#231f20" stroke-width="1.9"/>
<line x1="1193.54" y1="1359.80" x2="1193.54" y2="1369.30" stroke="#231f20" stroke-width="1.9"/>
<line x1="1197.69" y1="1359.80" x2="1197.69" y2="1369.30" stroke="#231f20" stroke-width="1.9"/>
<line x1="1201.40" y1="1359.80" x2="1201.40" y2="1373.30" stroke="#231f20" stroke-width="2.0"/>
<line x1="1225.81" y1="1359.80" x2="1225.81" y2="1369.30" stroke="#231f20" stroke-width="1.9"/>
<line x1="1240.09" y1="1359.80" x2="1240.09" y2="1369.30" stroke="#231f20" stroke-width="1.9"/>
<line x1="1250.23" y1="1359.80" x2="1250.23" y2="1369.30" stroke="#231f20" stroke-width="1.9"/>
<line x1="1258.09" y1="1359.80" x2="1258.09" y2="1369.30" stroke="#231f20" stroke-width="1.9"/>
<line x1="1264.51" y1="1359.80" x2="1264.51" y2="1369.30" stroke="#231f20" stroke-width="1.9"/>
<line x1="1269.94" y1="1359.80" x2="1269.94" y2="1369.30" stroke="#231f20" stroke-width="1.9"/>
<line x1="1274.64" y1="1359.80" x2="1274.64" y2="1369.30" stroke="#231f20" stroke-width="1.9"/>
<line x1="1278.79" y1="1359.80" x2="1278.79" y2="1369.30" stroke="#231f20" stroke-width="1.9"/>
<line x1="1282.50" y1="1359.80" x2="1282.50" y2="1373.30" stroke="#231f20" stroke-width="2.0"/>
<line x1="1306.91" y1="1359.80" x2="1306.91" y2="1369.30" stroke="#231f20" stroke-width="1.9"/>
<line x1="1321.19" y1="1359.80" x2="1321.19" y2="1369.30" stroke="#231f20" stroke-width="1.9"/>
<line x1="1331.33" y1="1359.80" x2="1331.33" y2="1369.30" stroke="#231f20" stroke-width="1.9"/>
<line x1="1339.19" y1="1359.80" x2="1339.19" y2="1369.30" stroke="#231f20" stroke-width="1.9"/>
<line x1="1345.61" y1="1359.80" x2="1345.61" y2="1369.30" stroke="#231f20" stroke-width="1.9"/>
<line x1="1351.04" y1="1359.80" x2="1351.04" y2="1369.30" stroke="#231f20" stroke-width="1.9"/>
<line x1="1355.74" y1="1359.80" x2="1355.74" y2="1369.30" stroke="#231f20" stroke-width="1.9"/>
<line x1="1359.89" y1="1359.80" x2="1359.89" y2="1369.30" stroke="#231f20" stroke-width="1.9"/>
<line x1="1363.60" y1="1359.80" x2="1363.60" y2="1373.30" stroke="#231f20" stroke-width="2.0"/>
<line x1="1388.01" y1="1359.80" x2="1388.01" y2="1369.30" stroke="#231f20" stroke-width="1.9"/>
<line x1="1402.29" y1="1359.80" x2="1402.29" y2="1369.30" stroke="#231f20" stroke-width="1.9"/>
<line x1="1412.43" y1="1359.80" x2="1412.43" y2="1369.30" stroke="#231f20" stroke-width="1.9"/>
<line x1="1420.29" y1="1359.80" x2="1420.29" y2="1369.30" stroke="#231f20" stroke-width="1.9"/>
<line x1="1426.71" y1="1359.80" x2="1426.71" y2="1369.30" stroke="#231f20" stroke-width="1.9"/>
<line x1="1432.14" y1="1359.80" x2="1432.14" y2="1369.30" stroke="#231f20" stroke-width="1.9"/>
<line x1="1436.84" y1="1359.80" x2="1436.84" y2="1369.30" stroke="#231f20" stroke-width="1.9"/>
<line x1="1440.99" y1="1359.80" x2="1440.99" y2="1369.30" stroke="#231f20" stroke-width="1.9"/>
<line x1="1444.70" y1="1359.80" x2="1444.70" y2="1373.30" stroke="#231f20" stroke-width="2.0"/>
<text x="1093.56" y="1420.89" font-size="41.94" textLength="37.99" lengthAdjust="spacingAndGlyphs" fill="#231f20">10</text>
<text x="1132.28" y="1406.10" font-size="30.51" textLength="14.97" lengthAdjust="spacingAndGlyphs" fill="#231f20">2</text>
<text x="1174.66" y="1420.89" font-size="41.94" textLength="37.99" lengthAdjust="spacingAndGlyphs" fill="#231f20">10</text>
<text x="1213.31" y="1405.81" font-size="30.07" textLength="14.52" lengthAdjust="spacingAndGlyphs" fill="#231f20">3</text>
<text x="1255.76" y="1420.89" font-size="41.94" textLength="37.99" lengthAdjust="spacingAndGlyphs" fill="#231f20">10</text>
<text x="1295.30" y="1406.10" font-size="30.69" textLength="12.91" lengthAdjust="spacingAndGlyphs" fill="#231f20">4</text>
<text x="1336.86" y="1420.89" font-size="41.94" textLength="37.99" lengthAdjust="spacingAndGlyphs" fill="#231f20">10</text>
<text x="1375.17" y="1405.80" font-size="30.40" textLength="14.89" lengthAdjust="spacingAndGlyphs" fill="#231f20">5</text>
<text x="1417.96" y="1420.89" font-size="41.94" textLength="37.99" lengthAdjust="spacingAndGlyphs" fill="#231f20">10</text>
<text x="1456.79" y="1405.81" font-size="30.07" textLength="14.04" lengthAdjust="spacingAndGlyphs" fill="#231f20">6</text>
<rect x="1190.5" y="967.6" width="20.900000000000045" height="20.39999999999993" fill="#909295" stroke="#333436" stroke-width="1.8"/>
<rect x="1190.5" y="994.4" width="20.900000000000045" height="20.2" fill="#636468" stroke="#333436" stroke-width="1.8"/>
<g class="sm">
<text x="1222.77" y="983.95" font-size="25.28" textLength="31.62" lengthAdjust="spacingAndGlyphs" fill="#231f20">Iso</text>
<text x="1222.38" y="1013.06" font-size="25.04" textLength="78.40" lengthAdjust="spacingAndGlyphs" fill="#231f20">CD 105</text>
</g>
<text x="1365.22" y="992.91" font-size="44.97" textLength="72.94" lengthAdjust="spacingAndGlyphs" fill="#231f20">95%</text>
<line x1="1510.50" y1="945.50" x2="1510.50" y2="1360.80" stroke="#231f20" stroke-width="2.0"/>
<line x1="1509.50" y1="1359.80" x2="1925.40" y2="1359.80" stroke="#231f20" stroke-width="2.4"/>
<line x1="1510.50" y1="1000.80" x2="1524.50" y2="1000.80" stroke="#231f20" stroke-width="2.0"/>
<text x="1453.75" y="1012.70" font-size="41.05" textLength="40.81" lengthAdjust="spacingAndGlyphs" fill="#231f20">30</text>
<line x1="1510.50" y1="1120.90" x2="1524.50" y2="1120.90" stroke="#231f20" stroke-width="2.0"/>
<text x="1453.91" y="1132.80" font-size="41.05" textLength="40.63" lengthAdjust="spacingAndGlyphs" fill="#231f20">20</text>
<line x1="1510.50" y1="1241.30" x2="1524.50" y2="1241.30" stroke="#231f20" stroke-width="2.0"/>
<text x="1455.03" y="1253.20" font-size="41.05" textLength="39.47" lengthAdjust="spacingAndGlyphs" fill="#231f20">10</text>
<text x="1473.38" y="1371.50" font-size="41.05" textLength="21.24" lengthAdjust="spacingAndGlyphs" fill="#231f20">0</text>
<line x1="1522.64" y1="1359.80" x2="1522.64" y2="1369.30" stroke="#231f20" stroke-width="1.9"/>
<line x1="1536.96" y1="1359.80" x2="1536.96" y2="1369.30" stroke="#231f20" stroke-width="1.9"/>
<line x1="1547.13" y1="1359.80" x2="1547.13" y2="1369.30" stroke="#231f20" stroke-width="1.9"/>
<line x1="1555.01" y1="1359.80" x2="1555.01" y2="1369.30" stroke="#231f20" stroke-width="1.9"/>
<line x1="1561.45" y1="1359.80" x2="1561.45" y2="1369.30" stroke="#231f20" stroke-width="1.9"/>
<line x1="1566.90" y1="1359.80" x2="1566.90" y2="1369.30" stroke="#231f20" stroke-width="1.9"/>
<line x1="1571.62" y1="1359.80" x2="1571.62" y2="1369.30" stroke="#231f20" stroke-width="1.9"/>
<line x1="1575.78" y1="1359.80" x2="1575.78" y2="1369.30" stroke="#231f20" stroke-width="1.9"/>
<line x1="1579.50" y1="1359.80" x2="1579.50" y2="1373.30" stroke="#231f20" stroke-width="2.0"/>
<line x1="1603.99" y1="1359.80" x2="1603.99" y2="1369.30" stroke="#231f20" stroke-width="1.9"/>
<line x1="1618.31" y1="1359.80" x2="1618.31" y2="1369.30" stroke="#231f20" stroke-width="1.9"/>
<line x1="1628.48" y1="1359.80" x2="1628.48" y2="1369.30" stroke="#231f20" stroke-width="1.9"/>
<line x1="1636.36" y1="1359.80" x2="1636.36" y2="1369.30" stroke="#231f20" stroke-width="1.9"/>
<line x1="1642.80" y1="1359.80" x2="1642.80" y2="1369.30" stroke="#231f20" stroke-width="1.9"/>
<line x1="1648.25" y1="1359.80" x2="1648.25" y2="1369.30" stroke="#231f20" stroke-width="1.9"/>
<line x1="1652.97" y1="1359.80" x2="1652.97" y2="1369.30" stroke="#231f20" stroke-width="1.9"/>
<line x1="1657.13" y1="1359.80" x2="1657.13" y2="1369.30" stroke="#231f20" stroke-width="1.9"/>
<line x1="1660.85" y1="1359.80" x2="1660.85" y2="1373.30" stroke="#231f20" stroke-width="2.0"/>
<line x1="1685.34" y1="1359.80" x2="1685.34" y2="1369.30" stroke="#231f20" stroke-width="1.9"/>
<line x1="1699.66" y1="1359.80" x2="1699.66" y2="1369.30" stroke="#231f20" stroke-width="1.9"/>
<line x1="1709.83" y1="1359.80" x2="1709.83" y2="1369.30" stroke="#231f20" stroke-width="1.9"/>
<line x1="1717.71" y1="1359.80" x2="1717.71" y2="1369.30" stroke="#231f20" stroke-width="1.9"/>
<line x1="1724.15" y1="1359.80" x2="1724.15" y2="1369.30" stroke="#231f20" stroke-width="1.9"/>
<line x1="1729.60" y1="1359.80" x2="1729.60" y2="1369.30" stroke="#231f20" stroke-width="1.9"/>
<line x1="1734.32" y1="1359.80" x2="1734.32" y2="1369.30" stroke="#231f20" stroke-width="1.9"/>
<line x1="1738.48" y1="1359.80" x2="1738.48" y2="1369.30" stroke="#231f20" stroke-width="1.9"/>
<line x1="1742.20" y1="1359.80" x2="1742.20" y2="1373.30" stroke="#231f20" stroke-width="2.0"/>
<line x1="1766.69" y1="1359.80" x2="1766.69" y2="1369.30" stroke="#231f20" stroke-width="1.9"/>
<line x1="1781.01" y1="1359.80" x2="1781.01" y2="1369.30" stroke="#231f20" stroke-width="1.9"/>
<line x1="1791.18" y1="1359.80" x2="1791.18" y2="1369.30" stroke="#231f20" stroke-width="1.9"/>
<line x1="1799.06" y1="1359.80" x2="1799.06" y2="1369.30" stroke="#231f20" stroke-width="1.9"/>
<line x1="1805.50" y1="1359.80" x2="1805.50" y2="1369.30" stroke="#231f20" stroke-width="1.9"/>
<line x1="1810.95" y1="1359.80" x2="1810.95" y2="1369.30" stroke="#231f20" stroke-width="1.9"/>
<line x1="1815.67" y1="1359.80" x2="1815.67" y2="1369.30" stroke="#231f20" stroke-width="1.9"/>
<line x1="1819.83" y1="1359.80" x2="1819.83" y2="1369.30" stroke="#231f20" stroke-width="1.9"/>
<line x1="1823.55" y1="1359.80" x2="1823.55" y2="1373.30" stroke="#231f20" stroke-width="2.0"/>
<line x1="1848.04" y1="1359.80" x2="1848.04" y2="1369.30" stroke="#231f20" stroke-width="1.9"/>
<line x1="1862.36" y1="1359.80" x2="1862.36" y2="1369.30" stroke="#231f20" stroke-width="1.9"/>
<line x1="1872.53" y1="1359.80" x2="1872.53" y2="1369.30" stroke="#231f20" stroke-width="1.9"/>
<line x1="1880.41" y1="1359.80" x2="1880.41" y2="1369.30" stroke="#231f20" stroke-width="1.9"/>
<line x1="1886.85" y1="1359.80" x2="1886.85" y2="1369.30" stroke="#231f20" stroke-width="1.9"/>
<line x1="1892.30" y1="1359.80" x2="1892.30" y2="1369.30" stroke="#231f20" stroke-width="1.9"/>
<line x1="1897.02" y1="1359.80" x2="1897.02" y2="1369.30" stroke="#231f20" stroke-width="1.9"/>
<line x1="1901.18" y1="1359.80" x2="1901.18" y2="1369.30" stroke="#231f20" stroke-width="1.9"/>
<line x1="1904.90" y1="1359.80" x2="1904.90" y2="1373.30" stroke="#231f20" stroke-width="2.0"/>
<text x="1552.76" y="1420.89" font-size="41.94" textLength="37.99" lengthAdjust="spacingAndGlyphs" fill="#231f20">10</text>
<text x="1591.48" y="1406.10" font-size="30.51" textLength="14.97" lengthAdjust="spacingAndGlyphs" fill="#231f20">2</text>
<text x="1634.11" y="1420.89" font-size="41.94" textLength="37.99" lengthAdjust="spacingAndGlyphs" fill="#231f20">10</text>
<text x="1672.76" y="1405.81" font-size="30.07" textLength="14.52" lengthAdjust="spacingAndGlyphs" fill="#231f20">3</text>
<text x="1715.46" y="1420.89" font-size="41.94" textLength="37.99" lengthAdjust="spacingAndGlyphs" fill="#231f20">10</text>
<text x="1755.00" y="1406.10" font-size="30.69" textLength="12.91" lengthAdjust="spacingAndGlyphs" fill="#231f20">4</text>
<text x="1796.81" y="1420.89" font-size="41.94" textLength="37.99" lengthAdjust="spacingAndGlyphs" fill="#231f20">10</text>
<text x="1835.12" y="1405.80" font-size="30.40" textLength="14.89" lengthAdjust="spacingAndGlyphs" fill="#231f20">5</text>
<text x="1878.16" y="1420.89" font-size="41.94" textLength="37.99" lengthAdjust="spacingAndGlyphs" fill="#231f20">10</text>
<text x="1916.99" y="1405.81" font-size="30.07" textLength="14.04" lengthAdjust="spacingAndGlyphs" fill="#231f20">6</text>
<rect x="1668.3000000000002" y="967.6" width="21.099999999999863" height="20.39999999999993" fill="#909295" stroke="#333436" stroke-width="1.8"/>
<rect x="1668.3000000000002" y="994.4" width="21.099999999999863" height="20.2" fill="#636468" stroke="#333436" stroke-width="1.8"/>
<g class="sm">
<text x="1698.35" y="983.95" font-size="25.28" textLength="32.15" lengthAdjust="spacingAndGlyphs" fill="#231f20">Iso</text>
<text x="1697.92" y="1013.06" font-size="25.04" textLength="69.79" lengthAdjust="spacingAndGlyphs" fill="#231f20">CD 90</text>
</g>
<text x="1841.38" y="992.91" font-size="44.97" textLength="73.19" lengthAdjust="spacingAndGlyphs" fill="#231f20">88%</text>
</svg></body></html>
